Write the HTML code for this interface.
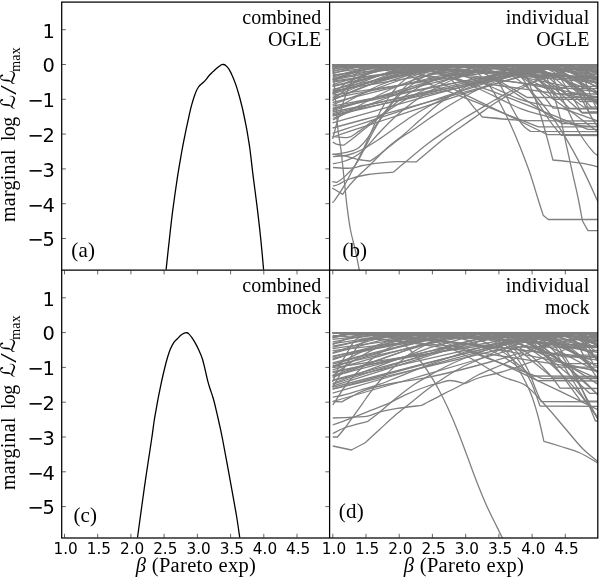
<!DOCTYPE html>
<html lang="en"><head><meta charset="utf-8"><title>marginal log likelihood vs beta</title>
<style>
html,body{margin:0;padding:0;background:#fff;}
body{width:600px;height:578px;position:relative;overflow:hidden;}
.t{position:absolute;white-space:nowrap;color:#000;line-height:1;}
.yt{font-family:"DejaVu Sans","Liberation Sans",sans-serif;font-size:19.44px;text-align:right;width:50px;}
.xt{font-family:"DejaVu Sans","Liberation Sans",sans-serif;font-size:15.28px;text-align:center;width:40px;}
.s{font-family:"Liberation Serif","DejaVu Serif",serif;font-size:20px;}
.r{text-align:right;}
.mn{letter-spacing:-1.3px;}
.yl{transform-origin:0 0;transform:rotate(-90deg);text-align:left;width:200px;height:20px;line-height:20px;letter-spacing:0.25px;word-spacing:3px;}
.cal{font-family:"DejaVu Serif","DejaVu Sans","Liberation Serif",serif;font-style:normal;font-size:20px;line-height:0;letter-spacing:0;}
.lg{letter-spacing:-0.7px;}
.sl{font-size:23px;line-height:0;position:relative;top:1px;display:inline-block;transform:scaleX(1.5);margin:0 2px 0 1.5px;}
sub{font-size:14px;vertical-align:baseline;position:relative;top:5.3px;line-height:0;letter-spacing:0.3px;margin-left:-1.5px;}
</style></head><body>

<svg width="600" height="578" viewBox="0 0 600 578" style="position:absolute;left:0;top:0">
<defs>
<clipPath id="cA"><rect x="61.7" y="2.1" width="267.9" height="268.1"/></clipPath>
<clipPath id="cB"><rect x="329.6" y="64.0" width="268.2" height="206.2"/></clipPath>
<clipPath id="cC"><rect x="61.7" y="270.2" width="267.9" height="267.8"/></clipPath>
<clipPath id="cD"><rect x="329.6" y="332.0" width="268.2" height="206.0"/></clipPath>
</defs>
<g clip-path="url(#cB)" fill="none" stroke="#808080" stroke-width="1.30" stroke-linejoin="round">
<path d="M332.8 64.3C333.2 70.2 334.6 89.0 335.5 100.0C336.4 111.0 337.1 121.7 338.0 130.0C338.9 138.3 339.9 141.3 341.0 150.0C342.1 158.7 343.4 172.6 344.4 181.9C345.4 191.2 346.0 198.1 347.0 206.1C348.0 214.1 349.1 222.7 350.5 230.0C351.9 237.3 353.8 243.3 355.3 250.0C356.8 256.7 358.6 266.7 359.3 270.0"/>
<path d="M333.0 167.5C335.9 167.6 345.6 168.5 350.5 168.2C355.4 167.9 358.0 166.3 362.6 165.5C367.2 164.7 372.2 163.7 378.0 163.1C383.8 162.5 390.8 161.9 397.2 161.7C403.6 161.5 413.1 161.9 416.3 161.9C418.2 160.2 423.3 155.9 428.0 152.0C432.7 148.1 439.1 142.5 444.7 138.3C450.2 134.1 455.8 130.6 461.3 126.7C466.9 122.8 472.4 118.9 478.0 115.0C483.6 111.1 488.6 107.2 494.7 103.3C500.8 99.4 509.2 94.8 514.7 91.7C520.2 88.7 523.0 87.3 528.0 85.0C533.0 82.7 538.0 80.5 545.0 78.0C552.0 75.5 561.2 72.0 570.0 70.0C578.8 68.0 593.3 66.7 598.0 66.0"/>
<path d="M333.0 186.0C333.9 185.8 335.9 185.6 338.4 184.5C340.9 183.4 343.1 181.2 348.0 179.5C352.9 177.8 360.4 175.7 368.0 174.5C375.6 173.3 389.1 172.6 393.3 172.2C395.4 170.4 400.1 166.3 405.9 161.5C411.7 156.7 421.5 148.5 428.0 143.5C434.5 138.5 439.1 135.6 444.7 131.7C450.2 127.8 455.8 123.6 461.3 120.0C466.9 116.4 472.4 113.3 478.0 110.0C483.6 106.7 488.5 103.5 494.7 100.0C500.9 96.5 507.4 92.5 515.0 89.0C522.5 85.5 530.8 82.2 540.0 79.0C549.2 75.8 560.3 72.3 570.0 70.0C579.7 67.7 593.3 65.8 598.0 65.0"/>
<path d="M332.3 202.7C332.7 202.2 332.9 202.9 334.9 200.0C336.9 197.1 341.2 190.9 344.4 185.4C347.6 179.9 351.0 173.0 354.0 167.2C357.0 161.4 359.7 156.7 362.6 150.8C365.5 144.9 368.4 138.2 371.3 131.7C374.2 125.2 376.9 118.0 380.0 112.0C383.1 106.0 386.4 100.7 389.7 96.0C393.0 91.3 395.5 87.8 399.7 84.0C403.9 80.2 409.1 76.0 415.0 73.0C420.9 70.0 427.5 67.4 435.0 66.0C442.5 64.6 445.8 64.7 460.0 64.5C474.2 64.3 497.0 63.8 520.0 65.0C543.0 66.2 585.0 70.8 598.0 72.0"/>
<path d="M332.3 188.0L342.7 194.4C343.1 193.8 343.4 193.0 345.3 190.6C347.2 188.2 349.7 184.7 354.0 180.2C358.3 175.7 365.8 169.0 371.3 163.7C376.8 158.4 381.3 153.1 386.8 148.2C392.3 143.3 398.6 139.0 404.1 134.3C409.6 129.6 414.0 125.2 420.0 120.0C426.0 114.8 433.3 108.0 440.0 103.0C446.7 98.0 453.3 93.8 460.0 90.0C466.7 86.2 472.5 83.2 480.0 80.0C487.5 76.8 496.7 73.3 505.0 71.0C513.3 68.7 520.8 67.1 530.0 66.0C539.2 64.9 548.7 64.5 560.0 64.5C571.3 64.5 591.7 65.8 598.0 66.0"/>
<path d="M333.0 156.7C335.5 156.4 343.3 156.1 348.0 155.0C352.7 153.9 356.3 152.5 361.3 150.0C366.3 147.5 372.4 143.6 378.0 140.0C383.6 136.4 389.1 132.2 394.7 128.3C400.2 124.4 405.8 120.3 411.3 116.7C416.9 113.1 422.4 109.8 428.0 106.7C433.6 103.6 437.7 101.6 444.7 98.3C451.7 95.0 460.8 90.5 470.0 87.0C479.2 83.5 490.0 79.8 500.0 77.0C510.0 74.2 520.0 71.8 530.0 70.0C540.0 68.2 548.7 66.9 560.0 66.0C571.3 65.1 591.7 64.8 598.0 64.5"/>
<path d="M332.3 154.2C334.5 154.5 341.1 155.1 345.3 156.0C349.5 156.9 353.2 158.6 357.4 159.4C361.6 160.2 368.2 160.8 370.4 161.1C372.0 159.9 375.4 157.6 379.9 154.2C384.4 150.8 391.7 144.4 397.2 140.4C402.7 136.4 407.3 133.7 412.8 130.0C418.3 126.3 423.8 122.2 430.0 118.0C436.2 113.8 442.5 109.5 450.0 105.0C457.5 100.5 466.7 95.2 475.0 91.0C483.3 86.8 490.8 83.3 500.0 80.0C509.2 76.7 520.0 73.3 530.0 71.0C540.0 68.7 548.7 67.1 560.0 66.0C571.3 64.9 591.7 64.8 598.0 64.5"/>
<path d="M333.0 100.0C337.5 98.0 348.8 92.0 360.0 88.0C371.2 84.0 386.7 79.3 400.0 76.0C413.3 72.7 428.9 69.6 440.0 68.0C451.1 66.4 460.6 65.5 466.7 66.2C472.8 66.9 472.8 68.6 476.7 72.0C480.6 75.4 486.1 81.5 490.0 86.7C493.9 91.9 496.7 97.2 500.0 103.3C503.3 109.4 506.7 116.1 510.0 123.3C513.3 130.5 516.7 138.4 520.0 146.7C523.3 155.0 527.0 164.4 530.0 173.3C533.0 182.2 536.1 192.9 538.3 200.0C540.5 207.1 542.5 213.0 543.4 215.6L548.3 219.5L598.0 219.5"/>
<path d="M333.0 90.0C340.8 87.5 365.5 78.8 380.0 75.0C394.5 71.2 410.0 67.8 420.0 67.0C430.0 66.2 434.3 67.4 440.0 70.0C445.7 72.6 449.8 78.1 454.0 82.5C458.2 86.9 461.8 92.0 465.2 96.3C468.6 100.6 471.8 105.0 474.7 108.4C477.6 111.9 481.2 115.6 482.5 117.0C487.1 117.4 502.4 118.9 510.0 119.5C517.6 120.1 513.3 120.3 528.0 120.6C542.7 120.8 586.3 120.9 598.0 121.0"/>
<path d="M333.0 80.0C344.2 78.0 377.2 70.6 400.0 68.0C422.8 65.4 455.0 64.2 470.0 64.5C485.0 64.8 484.5 65.8 490.0 70.0C495.5 74.2 499.3 83.7 503.0 90.0C506.7 96.3 509.2 102.7 512.0 108.0C514.8 113.3 517.8 118.3 520.0 121.6C522.2 124.9 523.8 126.2 525.5 127.8C527.2 129.4 529.6 130.7 530.4 131.3L598.0 131.7"/>
<path d="M333.0 110.0C340.8 105.8 363.8 91.7 380.0 85.0C396.2 78.3 413.3 73.4 430.0 70.0C446.7 66.6 465.0 64.5 480.0 64.5C495.0 64.5 511.4 65.8 520.0 70.0C528.6 74.2 528.4 82.8 531.7 90.0C535.0 97.2 537.5 105.5 540.0 113.3C542.5 121.1 544.6 128.9 546.7 136.7C548.9 144.5 551.9 156.1 552.9 160.0C555.6 160.3 564.2 161.0 569.2 161.6C574.2 162.2 578.2 162.5 583.0 163.4C587.8 164.3 595.5 166.2 598.0 166.8"/>
<path d="M333.0 120.0C344.2 114.2 378.8 93.7 400.0 85.0C421.2 76.3 441.7 71.4 460.0 68.0C478.3 64.6 496.7 64.2 510.0 64.5C523.3 64.8 533.0 65.8 540.0 70.0C547.0 74.2 548.4 82.2 551.7 90.0C555.0 97.8 557.5 107.2 560.0 116.7C562.5 126.2 564.5 136.7 566.7 146.7C568.9 156.7 571.3 167.8 573.3 176.7C575.3 185.6 577.0 192.6 578.5 200.0C580.0 207.4 581.8 217.5 582.5 221.0L588.0 230.6L598.0 230.6"/>
<path d="M333.0 75.0C352.5 73.2 415.5 65.3 450.0 64.5C484.5 63.7 521.7 64.9 540.0 70.0C558.3 75.1 554.2 85.8 560.0 95.0C565.8 104.2 571.0 117.5 575.0 125.0C579.0 132.5 580.8 135.5 583.9 140.0C587.0 144.5 591.0 149.5 593.4 152.1C595.8 154.7 597.2 155.0 598.0 155.6"/>
<path d="M332.8 136.6C335.4 136.7 343.8 138.3 348.2 137.4C352.6 136.5 355.2 133.7 359.1 131.1C363.0 128.5 367.7 124.6 371.6 121.8C375.5 119.0 379.1 116.6 382.5 114.0C385.9 111.4 388.1 109.2 391.8 106.2C395.6 103.2 399.5 99.7 405.0 96.0C410.5 92.3 417.5 87.7 425.0 84.0C432.5 80.3 440.8 76.8 450.0 74.0C459.2 71.2 468.3 68.6 480.0 67.0C491.7 65.4 500.3 64.9 520.0 64.5C539.7 64.1 585.0 64.5 598.0 64.5"/>
<path d="M332.8 142.0C333.6 142.4 335.5 143.9 337.3 144.4C339.1 144.9 342.6 145.1 343.6 145.2C344.4 144.7 345.6 143.9 348.2 142.0C350.8 140.1 354.7 137.0 359.1 133.5C363.5 130.0 369.2 125.2 374.7 121.0C380.2 116.8 385.8 112.2 392.0 108.0C398.2 103.8 404.5 100.0 412.0 96.0C419.5 92.0 428.2 87.7 437.0 84.0C445.8 80.3 454.5 76.8 465.0 74.0C475.5 71.2 487.5 68.6 500.0 67.0C512.5 65.4 523.7 64.8 540.0 64.5C556.3 64.2 588.3 65.3 598.0 65.5"/>
<path d="M332.8 154.5C334.6 154.2 340.2 153.6 343.6 152.9C347.0 152.2 350.3 151.5 352.9 150.6C355.5 149.7 356.8 149.4 359.1 147.5C361.4 145.6 363.5 143.5 366.9 138.9C370.3 134.3 375.5 125.9 379.4 120.2C383.3 114.5 386.5 109.7 390.3 104.7C394.1 99.7 397.7 94.5 402.0 90.0C406.3 85.5 410.5 81.5 416.0 78.0C421.5 74.5 427.7 71.2 435.0 69.0C442.3 66.8 432.8 65.2 460.0 64.5C487.2 63.8 575.0 64.5 598.0 64.5"/>
<path d="M332.8 163.8C334.6 163.4 340.5 162.4 343.6 161.5C346.7 160.6 348.8 159.7 351.4 158.4C354.0 157.1 356.5 155.6 359.1 153.7C361.7 151.8 363.4 150.3 366.9 146.7C370.4 143.1 375.3 136.9 380.0 132.0C384.7 127.0 389.7 121.8 395.0 117.0C400.3 112.2 405.8 107.5 412.0 103.0C418.2 98.5 424.8 94.0 432.0 90.0C439.2 86.0 446.2 82.3 455.0 79.0C463.8 75.7 474.2 72.3 485.0 70.0C495.8 67.7 501.2 65.9 520.0 65.0C538.8 64.1 585.0 64.6 598.0 64.5"/>
<path d="M332.3 181.6L336.6 182.4C337.8 181.6 340.4 180.6 343.6 177.6C346.8 174.6 352.2 169.4 355.7 164.6C359.1 159.8 361.6 154.1 364.3 149.0C367.0 143.9 369.1 139.3 372.0 134.0C374.9 128.7 378.3 122.5 382.0 117.0C385.7 111.5 389.3 106.2 394.0 101.0C398.7 95.8 404.0 90.5 410.0 86.0C416.0 81.5 422.5 77.2 430.0 74.0C437.5 70.8 445.0 68.1 455.0 66.5C465.0 64.9 466.2 64.9 490.0 64.6C513.8 64.3 580.0 64.6 598.0 64.6"/>
<path d="M460.0 64.5C466.7 64.8 490.0 64.1 500.0 66.0C510.0 67.9 514.9 71.8 520.0 76.0C525.1 80.2 526.9 85.9 530.4 91.1C533.9 96.3 537.2 101.6 540.8 107.0C544.4 112.4 548.3 119.0 551.8 123.7C555.2 128.4 559.9 133.5 561.5 135.4L598.0 135.6"/>
<path d="M500.0 64.5C507.5 64.8 534.5 64.8 545.0 66.0C555.5 67.2 558.4 69.1 563.0 72.0C567.6 74.9 569.4 78.8 572.6 83.5C575.8 88.2 579.1 94.3 582.3 100.1C585.5 105.9 589.4 113.6 592.0 118.1C594.6 122.6 597.0 125.5 598.0 127.0"/>
<path d="M520.0 64.5C527.5 64.8 555.3 65.1 565.0 66.0C574.7 66.9 574.7 67.5 578.0 70.0C581.3 72.5 582.7 76.0 585.0 80.8C587.3 85.6 589.8 93.8 592.0 98.8C594.2 103.8 597.0 109.0 598.0 111.0"/>
<path d="M400.0 64.5C406.7 65.1 426.7 65.1 440.0 68.0C453.3 70.9 466.7 76.8 480.0 82.0C493.3 87.2 509.9 95.7 520.0 99.4C530.1 103.1 533.9 102.8 540.8 104.3C547.7 105.8 554.6 106.6 561.5 108.4C568.4 110.2 576.2 113.3 582.3 115.4C588.4 117.5 595.4 120.1 598.0 121.0"/>
<path d="M380.0 64.5C386.7 65.1 405.0 64.6 420.0 68.0C435.0 71.4 453.3 78.3 470.0 85.0C486.7 91.7 507.1 103.1 520.0 108.4C533.0 113.7 538.5 113.9 547.7 116.7C556.9 119.5 567.0 123.4 575.4 125.0C583.8 126.6 594.2 126.2 598.0 126.4"/>
<path d="M430.0 64.5C440.0 64.8 475.0 64.4 490.0 66.0C505.0 67.6 511.7 69.7 520.0 74.0C528.3 78.3 534.5 86.3 540.0 92.0C545.5 97.7 550.8 105.5 553.0 108.2L598.0 108.6"/>
<path d="M450.0 64.5C458.3 65.1 486.7 65.4 500.0 68.0C513.3 70.6 522.5 76.6 530.0 80.0C537.5 83.4 542.5 86.8 545.0 88.2L598.0 88.6"/>
<path d="M470.0 64.5C478.3 65.4 507.5 66.8 520.0 70.0C532.5 73.2 539.0 80.1 545.0 84.0C551.0 87.9 554.2 92.0 556.0 93.6L598.0 94.0"/>
<path d="M332.6 86.0L358.2 80.2L419.7 67.2L477.1 64.6L523.6 64.6L591.5 75.8L598.3 78.6"/>
<path d="M332.6 110.7C336.3 109.6 347.3 106.2 354.7 103.9C362.1 101.6 369.5 99.3 376.9 97.1C384.3 94.8 391.6 92.6 399.0 90.4C406.4 88.2 413.8 86.0 421.2 83.9C428.6 81.8 435.9 79.7 443.3 77.7C450.7 75.7 458.1 73.6 465.5 71.9C472.9 70.2 480.2 68.5 487.6 67.3C495.0 66.1 502.3 64.9 509.7 64.7C517.1 64.5 524.5 63.7 531.9 65.9C539.3 68.1 546.0 71.8 554.0 77.7C562.0 83.6 575.8 97.5 580.2 101.5L598.3 101.5"/>
<path d="M332.6 104.6C336.3 103.2 347.3 99.1 354.7 96.4C362.1 93.7 369.5 91.0 376.9 88.3C384.3 85.6 391.6 83.0 399.0 80.5C406.4 78.0 413.8 75.5 421.2 73.3C428.6 71.1 435.9 68.8 443.3 67.3C450.7 65.8 458.1 65.0 465.5 64.6C472.9 64.1 480.2 64.5 487.6 64.6C495.0 64.7 502.3 63.3 509.7 65.1C517.1 66.9 524.5 70.8 531.9 75.6C539.3 80.4 547.6 88.2 554.0 93.8C560.4 99.3 567.4 106.4 570.1 108.9L598.3 108.9"/>
<path d="M332.6 72.7C336.3 72.2 347.3 70.6 354.7 69.6C362.1 68.6 369.5 67.7 376.9 66.9C384.3 66.1 391.6 65.4 399.0 65.0C406.4 64.6 413.8 64.7 421.2 64.6C428.6 64.5 435.9 64.6 443.3 64.6C450.7 64.6 458.1 64.6 465.5 64.6C472.9 64.6 480.2 64.6 487.6 64.6C495.0 64.6 502.3 64.6 509.7 64.6C517.1 64.6 524.5 64.0 531.9 64.6C539.3 65.2 546.6 65.9 554.0 68.4C561.4 70.9 568.8 75.5 576.2 79.5C583.6 83.5 594.6 90.3 598.3 92.5"/>
<path d="M332.6 108.1C336.3 107.3 347.3 105.0 354.7 103.5C362.1 102.0 369.5 100.5 376.9 99.0C384.3 97.5 391.6 95.9 399.0 94.4C406.4 92.9 413.8 91.4 421.2 89.9C428.6 88.4 435.9 86.8 443.3 85.3C450.7 83.8 458.1 82.3 465.5 80.8C472.9 79.3 480.2 77.8 487.6 76.3C495.0 74.8 502.3 73.3 509.7 71.8C517.1 70.3 524.5 68.6 531.9 67.4C539.3 66.2 546.0 64.4 554.0 64.6C562.0 64.8 575.3 68.1 579.6 68.8L598.3 68.8"/>
<path d="M332.6 89.4L400.2 74.9L425.7 69.5L441.4 66.4L465.0 64.6L529.5 64.6L574.1 84.5L598.3 103.2"/>
<path d="M332.6 112.0L409.1 96.2L464.6 84.9L518.8 73.9L550.6 67.8L553.5 67.3L579.1 64.6L597.0 69.5"/>
<path d="M332.6 90.8C336.3 90.2 347.3 88.3 354.7 87.1C362.1 85.9 369.5 84.7 376.9 83.5C384.3 82.3 391.6 81.0 399.0 79.8C406.4 78.6 413.8 77.4 421.2 76.2C428.6 75.0 435.9 73.9 443.3 72.7C450.7 71.5 458.1 70.3 465.5 69.3C472.9 68.2 480.2 67.2 487.6 66.4C495.0 65.6 502.3 64.9 509.7 64.6C517.1 64.3 524.5 64.6 531.9 64.6C539.3 64.6 546.6 64.6 554.0 64.6C561.4 64.6 569.7 64.5 576.2 64.6C582.8 64.7 590.4 65.1 593.3 65.2"/>
<path d="M332.6 97.4C336.3 95.8 347.3 91.0 354.7 88.0C362.1 85.0 369.5 81.9 376.9 79.1C384.3 76.3 391.6 73.6 399.0 71.4C406.4 69.2 413.8 67.1 421.2 66.0C428.6 64.9 435.9 64.8 443.3 64.6C450.7 64.4 458.1 64.6 465.5 64.6C472.9 64.6 480.2 64.6 487.6 64.6C495.0 64.6 502.3 64.6 509.7 64.6C517.1 64.6 524.5 64.0 531.9 64.6C539.3 65.2 546.6 66.6 554.0 68.2C561.4 69.8 568.8 72.1 576.2 74.1C583.6 76.1 594.6 79.2 598.3 80.2"/>
<path d="M332.6 106.1L366.8 99.5L368.3 99.2L474.4 79.1L500.8 74.2L540.4 67.6L587.6 70.2L598.3 87.5"/>
<path d="M332.6 86.5C336.3 85.6 347.3 83.0 354.7 81.3C362.1 79.6 369.5 77.8 376.9 76.1C384.3 74.4 391.6 72.6 399.0 71.0C406.4 69.4 413.8 67.7 421.2 66.6C428.6 65.5 435.9 64.9 443.3 64.6C450.7 64.3 458.1 64.6 465.5 64.6C472.9 64.6 480.2 64.6 487.6 64.6C495.0 64.6 502.3 64.6 509.7 64.6C517.1 64.6 524.5 64.6 531.9 64.6C539.3 64.6 546.6 64.2 554.0 64.6C561.4 65.0 568.8 65.8 576.2 67.0C583.6 68.2 594.6 71.2 598.3 72.1"/>
<path d="M332.6 82.2L361.3 77.8L372.0 76.2L453.7 65.8L497.2 65.7L521.6 77.0L574.7 114.3L598.3 132.2"/>
<path d="M332.6 93.2L393.1 70.3L474.8 67.0L562.1 123.6L586.0 123.6L586.8 123.6L598.3 123.6"/>
<path d="M332.6 133.3C336.3 132.1 347.3 128.4 354.7 126.0C362.1 123.6 369.5 121.1 376.9 118.7C384.3 116.3 391.6 113.8 399.0 111.4C406.4 109.0 413.8 106.5 421.2 104.1C428.6 101.7 435.9 99.3 443.3 96.9C450.7 94.5 458.1 92.1 465.5 89.7C472.9 87.3 480.2 84.9 487.6 82.6C495.0 80.3 502.3 78.0 509.7 75.8C517.1 73.6 524.5 71.2 531.9 69.4C539.3 67.6 546.6 64.2 554.0 65.0C561.4 65.8 570.4 66.5 576.2 74.3C582.0 82.1 586.7 105.7 588.8 112.0L598.3 112.0"/>
<path d="M332.6 81.1L450.4 64.6L470.1 64.6L510.4 64.6L561.4 75.8L566.6 80.3L588.1 100.1L598.3 100.1"/>
<path d="M332.6 75.6L391.8 64.7L417.9 64.6L435.5 64.6L552.6 73.3L554.0 74.0L566.6 81.3L583.7 92.9L598.3 103.6"/>
<path d="M332.6 137.0C336.3 135.8 347.3 132.1 354.7 129.7C362.1 127.3 369.5 124.8 376.9 122.4C384.3 120.0 391.6 117.5 399.0 115.1C406.4 112.7 413.8 110.2 421.2 107.8C428.6 105.4 435.9 103.0 443.3 100.6C450.7 98.2 458.1 95.8 465.5 93.4C472.9 91.0 480.2 88.6 487.6 86.3C495.0 84.0 502.3 81.6 509.7 79.4C517.1 77.2 524.5 74.9 531.9 72.9C539.3 70.9 546.6 68.8 554.0 67.4C561.4 66.0 569.0 63.8 576.2 64.6C583.4 65.3 593.9 70.7 597.4 71.9"/>
<path d="M332.6 116.0C336.3 115.1 347.3 112.5 354.7 110.7C362.1 108.9 369.5 107.1 376.9 105.3C384.3 103.5 391.6 101.8 399.0 100.0C406.4 98.2 413.8 96.5 421.2 94.7C428.6 93.0 435.9 91.2 443.3 89.5C450.7 87.8 458.1 86.0 465.5 84.3C472.9 82.6 480.2 80.8 487.6 79.2C495.0 77.6 502.3 76.0 509.7 74.4C517.1 72.9 524.5 71.2 531.9 69.9C539.3 68.6 546.6 67.2 554.0 66.3C561.4 65.4 569.7 63.7 576.2 64.6C582.7 65.5 590.2 70.6 593.0 71.8"/>
<path d="M332.6 118.5C336.3 117.1 347.3 112.9 354.7 110.1C362.1 107.3 369.5 104.5 376.9 101.7C384.3 98.9 391.6 96.1 399.0 93.3C406.4 90.5 413.8 87.8 421.2 85.1C428.6 82.4 435.9 79.8 443.3 77.3C450.7 74.8 458.1 72.1 465.5 70.1C472.9 68.1 480.2 66.1 487.6 65.2C495.0 64.3 502.3 64.7 509.7 64.6C517.1 64.5 524.5 63.8 531.9 64.7C539.3 65.7 546.6 67.5 554.0 70.3C561.4 73.1 568.8 77.4 576.2 81.5C583.6 85.6 594.6 92.8 598.3 95.1"/>
<path d="M332.6 128.0L365.7 119.0L370.2 117.8L420.5 104.1L428.9 101.8L468.1 91.2L495.7 83.7L523.7 76.2L591.2 77.2"/>
<path d="M332.6 98.2L398.0 85.6L472.9 71.5L493.7 68.0L526.2 64.6L554.1 64.6L555.5 64.6L591.7 64.7"/>
<path d="M332.6 78.9C336.3 77.9 347.3 74.6 354.7 72.7C362.1 70.8 369.5 69.0 376.9 67.7C384.3 66.4 391.6 65.3 399.0 64.8C406.4 64.3 413.8 64.6 421.2 64.6C428.6 64.6 435.9 64.6 443.3 64.6C450.7 64.6 458.1 64.6 465.5 64.6C472.9 64.6 480.2 64.6 487.6 64.6C495.0 64.6 502.3 64.0 509.7 64.6C517.1 65.2 524.5 66.2 531.9 68.1C539.3 70.0 546.6 73.2 554.0 76.0C561.4 78.8 568.8 81.7 576.2 84.6C583.6 87.5 594.6 91.9 598.3 93.4"/>
<path d="M332.6 114.8L363.5 108.2L429.5 94.1L430.5 93.8L483.1 82.6L497.8 79.5L517.1 75.4L540.9 70.4L546.5 69.3L596.0 67.9"/>
<path d="M332.6 79.3C336.3 78.1 347.3 74.1 354.7 72.0C362.1 69.9 369.5 67.8 376.9 66.6C384.3 65.4 391.6 64.9 399.0 64.6C406.4 64.3 413.8 64.6 421.2 64.6C428.6 64.6 435.9 64.6 443.3 64.6C450.7 64.6 458.1 64.6 465.5 64.6C472.9 64.6 480.2 64.6 487.6 64.6C495.0 64.6 502.3 63.4 509.7 64.6C517.1 65.8 524.5 67.8 531.9 71.8C539.3 75.8 545.7 81.5 554.0 88.3C562.3 95.1 576.9 108.4 581.5 112.4L598.3 112.4"/>
<path d="M332.6 77.2C336.3 76.1 347.3 72.6 354.7 70.6C362.1 68.6 369.5 66.1 376.9 65.3C384.3 64.5 391.6 64.1 399.0 65.5C406.4 66.9 413.8 70.8 421.2 73.9C428.6 77.0 435.9 80.7 443.3 84.2C450.7 87.7 458.1 91.2 465.5 94.8C472.9 98.3 480.2 101.9 487.6 105.5C495.0 109.1 502.3 112.6 509.7 116.2C517.1 119.8 525.6 123.9 531.9 127.0C538.2 130.1 544.9 133.3 547.5 134.6C552.3 134.6 567.7 134.6 576.2 134.6C584.7 134.6 594.6 134.6 598.3 134.6"/>
<path d="M332.6 95.2L385.0 87.4L441.6 79.1L453.8 77.3L525.9 67.3L552.4 64.8L582.1 113.0L598.3 113.0"/>
<path d="M332.6 113.7C336.3 112.8 347.3 110.2 354.7 108.4C362.1 106.7 369.5 104.9 376.9 103.2C384.3 101.5 391.6 99.7 399.0 98.0C406.4 96.3 413.8 94.5 421.2 92.8C428.6 91.1 435.9 89.4 443.3 87.7C450.7 86.0 458.1 84.4 465.5 82.7C472.9 81.0 480.2 79.4 487.6 77.8C495.0 76.2 502.3 74.7 509.7 73.2C517.1 71.8 524.5 70.3 531.9 69.1C539.3 67.9 546.6 66.8 554.0 66.0C561.4 65.2 568.8 63.2 576.2 64.6C583.6 66.0 594.6 72.8 598.3 74.5"/>
<path d="M332.6 68.2C336.3 67.6 347.3 65.3 354.7 64.7C362.1 64.1 369.5 64.6 376.9 64.6C384.3 64.6 391.6 64.6 399.0 64.6C406.4 64.6 413.8 64.6 421.2 64.6C428.6 64.6 435.9 64.6 443.3 64.6C450.7 64.6 458.1 64.6 465.5 64.6C472.9 64.6 480.2 64.6 487.6 64.6C495.0 64.6 502.3 64.6 509.7 64.6C517.1 64.6 524.5 64.0 531.9 64.6C539.3 65.2 546.6 65.8 554.0 68.3C561.4 70.8 569.9 76.2 576.2 79.9C582.5 83.6 589.2 88.8 591.8 90.6"/>
<path d="M332.6 94.0C336.3 92.8 347.3 89.1 354.7 86.8C362.1 84.5 369.5 82.1 376.9 79.9C384.3 77.7 391.6 75.4 399.0 73.5C406.4 71.6 413.8 69.7 421.2 68.3C428.6 66.9 435.9 65.6 443.3 65.0C450.7 64.4 458.1 64.7 465.5 64.6C472.9 64.5 480.2 64.6 487.6 64.6C495.0 64.6 502.3 64.5 509.7 64.6C517.1 64.7 524.5 64.3 531.9 65.3C539.3 66.3 546.6 68.2 554.0 70.4C561.4 72.6 568.8 75.4 576.2 78.2C583.6 81.0 594.6 85.5 598.3 87.0"/>
<path d="M332.6 66.8C336.3 66.5 347.3 65.2 354.7 64.9C362.1 64.6 369.5 63.7 376.9 64.9C384.3 66.1 391.6 69.6 399.0 72.2C406.4 74.8 413.8 77.9 421.2 80.8C428.6 83.7 435.9 86.5 443.3 89.4C450.7 92.3 458.1 95.2 465.5 98.1C472.9 101.0 480.2 103.9 487.6 106.8C495.0 109.7 501.2 112.3 509.7 115.6C518.2 118.9 533.6 124.9 538.4 126.8C541.0 126.8 547.7 126.8 554.0 126.8C560.3 126.8 568.8 126.8 576.2 126.8C583.6 126.8 594.6 126.8 598.3 126.8"/>
<path d="M332.6 68.9C336.3 68.5 347.3 67.2 354.7 66.5C362.1 65.8 369.5 65.2 376.9 64.9C384.3 64.6 391.6 64.6 399.0 64.6C406.4 64.5 413.8 64.6 421.2 64.6C428.6 64.6 435.9 64.6 443.3 64.6C450.7 64.6 458.1 64.6 465.5 64.6C472.9 64.6 480.2 64.6 487.6 64.6C495.0 64.6 502.3 64.6 509.7 64.6C517.1 64.6 524.5 64.6 531.9 64.6C539.3 64.6 546.6 64.4 554.0 64.6C561.4 64.8 570.7 64.1 576.2 65.5C581.7 66.9 585.2 71.8 587.0 73.0L598.3 73.0"/>
<path d="M332.6 102.5L342.0 100.2L404.5 84.6L408.8 83.5L425.3 79.4L466.7 69.3L475.7 67.2L502.8 64.6L531.4 64.6L598.3 75.2"/>
<path d="M332.6 71.2C336.3 70.5 347.3 68.0 354.7 66.9C362.1 65.8 369.5 65.0 376.9 64.6C384.3 64.2 391.6 64.6 399.0 64.6C406.4 64.6 413.8 64.6 421.2 64.6C428.6 64.6 435.9 64.6 443.3 64.6C450.7 64.6 458.1 64.6 465.5 64.6C472.9 64.6 480.2 64.6 487.6 64.6C495.0 64.6 502.3 64.6 509.7 64.6C517.1 64.6 524.5 64.6 531.9 64.6C539.3 64.6 546.6 64.6 554.0 64.6C561.4 64.6 569.3 64.2 576.2 64.6C583.1 65.0 592.0 66.6 595.2 67.0"/>
<path d="M332.6 65.0C336.3 64.9 347.3 64.7 354.7 64.6C362.1 64.5 369.5 64.6 376.9 64.6C384.3 64.6 391.6 64.6 399.0 64.6C406.4 64.6 413.8 64.6 421.2 64.6C428.6 64.6 435.9 64.6 443.3 64.6C450.7 64.6 458.1 64.6 465.5 64.6C472.9 64.6 480.2 64.6 487.6 64.6C495.0 64.6 502.3 64.6 509.7 64.6C517.1 64.6 524.5 64.3 531.9 64.6C539.3 64.9 546.6 65.3 554.0 66.6C561.4 67.9 568.8 70.2 576.2 72.4C583.6 74.6 594.6 78.4 598.3 79.6"/>
<path d="M332.6 109.1C336.3 108.1 347.3 105.2 354.7 103.2C362.1 101.2 369.5 99.3 376.9 97.4C384.3 95.5 391.6 93.5 399.0 91.6C406.4 89.7 413.8 87.8 421.2 85.9C428.6 84.0 435.9 82.2 443.3 80.3C450.7 78.4 458.1 76.5 465.5 74.8C472.9 73.0 480.2 71.3 487.6 69.8C495.0 68.3 502.3 66.8 509.7 65.9C517.1 65.0 524.5 63.5 531.9 64.6C539.3 65.7 546.6 67.8 554.0 72.3C561.4 76.8 569.8 85.6 576.2 91.6C582.6 97.6 589.7 105.5 592.4 108.3"/>
<path d="M332.6 69.7L351.9 64.6L357.8 64.6L447.7 64.6L528.2 64.6L567.8 71.2L577.7 76.2L588.8 82.6L598.3 88.2"/>
<path d="M332.6 122.9C336.3 121.9 347.3 118.7 354.7 116.6C362.1 114.5 369.5 112.4 376.9 110.3C384.3 108.2 391.6 106.2 399.0 104.1C406.4 102.0 413.8 99.9 421.2 97.9C428.6 95.9 435.9 93.9 443.3 91.9C450.7 89.9 458.1 87.9 465.5 85.9C472.9 83.9 480.2 82.0 487.6 80.1C495.0 78.2 502.3 76.4 509.7 74.7C517.1 73.0 524.5 71.3 531.9 69.9C539.3 68.5 546.6 67.1 554.0 66.2C561.4 65.3 569.0 62.2 576.2 64.6C583.5 67.0 594.0 78.0 597.5 80.7"/>
<path d="M332.6 84.7C336.3 83.6 347.3 80.2 354.7 78.0C362.1 75.8 369.5 73.5 376.9 71.5C384.3 69.5 391.6 67.1 399.0 65.9C406.4 64.8 413.8 64.8 421.2 64.6C428.6 64.4 435.9 64.6 443.3 64.6C450.7 64.6 458.1 64.6 465.5 64.6C472.9 64.6 480.2 64.6 487.6 64.6C495.0 64.6 502.3 63.4 509.7 64.6C517.1 65.8 524.5 65.8 531.9 71.6C539.3 77.4 550.3 94.8 554.0 99.4C557.7 99.4 568.8 99.4 576.2 99.4C583.6 99.4 594.6 99.4 598.3 99.4"/>
<path d="M332.6 65.3C336.3 65.2 347.3 64.7 354.7 64.6C362.1 64.5 369.5 64.6 376.9 64.6C384.3 64.6 391.6 64.1 399.0 64.6C406.4 65.1 413.8 66.2 421.2 67.7C428.6 69.2 435.9 71.6 443.3 73.9C450.7 76.2 458.1 78.9 465.5 81.5C472.9 84.1 480.2 86.9 487.6 89.7C495.0 92.5 502.3 95.3 509.7 98.2C517.1 101.1 524.5 104.0 531.9 106.9C539.3 109.8 546.6 112.8 554.0 115.7C561.4 118.7 570.6 122.3 576.2 124.6C581.9 126.9 586.0 128.5 587.9 129.3L598.3 129.3"/>
<path d="M332.6 66.9C336.3 66.5 347.3 65.0 354.7 64.6C362.1 64.2 369.5 64.6 376.9 64.6C384.3 64.6 391.6 64.6 399.0 64.6C406.4 64.6 413.8 64.6 421.2 64.6C428.6 64.6 435.9 64.3 443.3 64.6C450.7 64.9 458.1 64.6 465.5 66.3C472.9 68.0 480.2 71.5 487.6 75.0C495.0 78.5 503.1 83.3 509.7 87.1C516.3 90.8 524.3 95.8 527.2 97.5C531.7 97.5 545.8 97.5 554.0 97.5C562.2 97.5 568.8 97.5 576.2 97.5C583.6 97.5 594.6 97.5 598.3 97.5"/>
<path d="M332.6 71.2C336.3 70.5 347.3 68.2 354.7 67.1C362.1 66.0 369.5 65.0 376.9 64.6C384.3 64.2 391.6 64.6 399.0 64.6C406.4 64.6 413.8 64.6 421.2 64.6C428.6 64.6 435.9 64.6 443.3 64.6C450.7 64.6 458.1 64.6 465.5 64.6C472.9 64.6 480.2 64.6 487.6 64.6C495.0 64.6 502.3 64.6 509.7 64.6C517.1 64.6 524.5 64.3 531.9 64.6C539.3 64.9 546.6 64.8 554.0 66.5C561.4 68.2 568.8 71.6 576.2 74.6C583.6 77.6 594.6 82.7 598.3 84.3"/>
<path d="M332.6 99.9L379.8 80.7L398.5 73.8L461.4 64.6L566.8 86.3L587.0 86.3L598.3 86.3"/>
<path d="M332.6 91.8C336.3 90.9 347.3 88.2 354.7 86.4C362.1 84.6 369.5 82.8 376.9 81.1C384.3 79.4 391.6 77.6 399.0 76.0C406.4 74.4 413.8 72.7 421.2 71.3C428.6 69.9 435.9 68.5 443.3 67.4C450.7 66.4 458.1 65.5 465.5 65.0C472.9 64.5 480.2 64.6 487.6 64.6C495.0 64.6 502.3 63.7 509.7 65.0C517.1 66.3 524.5 68.9 531.9 72.3C539.3 75.7 545.4 79.8 554.0 85.6C562.6 91.4 578.6 103.5 583.5 107.1L598.3 107.1"/>
<path d="M332.6 73.6C336.3 72.6 347.3 69.4 354.7 67.9C362.1 66.4 369.5 65.1 376.9 64.6C384.3 64.0 391.6 64.6 399.0 64.6C406.4 64.6 413.8 64.6 421.2 64.6C428.6 64.6 435.9 64.6 443.3 64.6C450.7 64.6 458.1 64.6 465.5 64.6C472.9 64.6 480.2 64.6 487.6 64.6C495.0 64.6 502.3 64.6 509.7 64.6C517.1 64.6 524.5 64.6 531.9 64.6C539.3 64.6 546.6 64.6 554.0 64.6C561.4 64.6 568.8 64.4 576.2 64.6C583.6 64.8 594.6 65.7 598.3 65.9"/>
<path d="M332.6 139.0C333.4 136.0 335.9 126.5 337.5 120.8C339.1 115.1 340.8 109.9 342.4 105.0C344.0 100.1 345.6 95.6 347.2 91.5C348.8 87.4 350.5 83.8 352.1 80.6C353.7 77.4 355.4 74.6 357.0 72.3C358.6 70.0 360.3 68.1 361.9 66.8C363.5 65.5 353.0 64.9 366.7 64.6C380.4 64.3 418.2 64.8 443.9 65.0C469.6 65.2 495.4 65.6 521.1 66.1C546.8 66.6 585.4 67.6 598.3 67.9"/>
<path d="M332.6 79.6C335.1 79.0 342.5 77.1 347.4 76.0C352.3 74.9 357.2 73.8 362.1 72.8C367.0 71.8 372.0 70.9 376.9 70.1C381.8 69.3 386.7 68.6 391.6 67.9C396.5 67.2 401.5 66.7 406.4 66.2C411.3 65.7 416.3 65.4 421.2 65.1C426.1 64.8 424.4 64.3 435.9 64.6C447.4 64.8 472.1 65.3 490.1 66.6C508.2 67.9 526.2 69.9 544.2 72.6C562.2 75.2 589.3 80.8 598.3 82.5"/>
<path d="M332.6 93.5L347.0 82.3L386.0 65.2L392.8 64.6C404.2 64.7 438.5 64.9 461.3 65.3C484.1 65.7 507.0 66.3 529.8 67.2C552.6 68.1 586.9 70.0 598.3 70.5"/>
<path d="M332.6 100.8L340.0 94.0L357.6 80.1L359.4 78.8L365.0 75.1L390.8 64.6C402.3 64.9 436.9 65.2 460.0 66.3C483.1 67.4 506.1 69.0 529.1 71.3C552.1 73.5 586.8 78.4 598.3 79.8"/>
<path d="M332.6 64.6C338.1 64.7 354.7 65.0 365.8 65.3C376.9 65.6 387.9 66.1 399.0 66.6C410.1 67.1 421.1 67.7 432.2 68.3C443.3 68.9 454.4 69.7 465.5 70.4C476.6 71.2 487.6 72.0 498.7 72.8C509.8 73.6 520.8 74.5 531.9 75.4C543.0 76.3 554.0 77.3 565.1 78.3C576.2 79.3 592.8 81.0 598.3 81.5"/>
<path d="M332.6 64.6C338.1 64.8 354.7 65.1 365.8 65.6C376.9 66.1 387.9 66.9 399.0 67.8C410.1 68.7 421.1 69.8 432.2 71.0C443.3 72.2 454.4 73.5 465.5 74.9C476.6 76.4 487.6 78.0 498.7 79.7C509.8 81.4 520.8 83.1 531.9 85.0C543.0 86.9 554.0 89.0 565.1 91.1C576.2 93.2 592.8 96.6 598.3 97.7"/>
<path d="M332.6 64.6C338.1 64.8 354.7 65.3 365.8 65.8C376.9 66.2 387.9 66.8 399.0 67.3C410.1 67.8 421.1 68.4 432.2 69.0C443.3 69.6 454.4 70.2 465.5 70.8C476.6 71.4 487.6 72.1 498.7 72.7C509.8 73.3 520.8 73.9 531.9 74.6C543.0 75.2 554.0 75.9 565.1 76.6C576.2 77.3 592.8 78.3 598.3 78.7"/>
<path d="M332.6 64.6C338.1 64.8 354.7 65.3 365.8 65.7C376.9 66.1 387.9 66.6 399.0 67.1C410.1 67.6 421.1 68.1 432.2 68.6C443.3 69.1 454.4 69.7 465.5 70.2C476.6 70.7 487.6 71.2 498.7 71.8C509.8 72.4 520.8 73.0 531.9 73.6C543.0 74.2 554.0 74.8 565.1 75.4C576.2 76.0 592.8 76.9 598.3 77.2"/>
<path d="M332.6 64.6C338.1 65.2 354.7 66.8 365.8 68.1C376.9 69.4 387.9 70.8 399.0 72.2C410.1 73.6 421.1 75.0 432.2 76.5C443.3 78.0 454.4 79.4 465.5 80.9C476.6 82.4 487.6 84.0 498.7 85.5C509.8 87.0 520.8 88.5 531.9 90.1C543.0 91.7 554.0 93.3 565.1 94.9C576.2 96.5 592.8 98.9 598.3 99.7"/>
<path d="M332.6 64.6C338.1 65.0 354.7 66.1 365.8 67.0C376.9 67.9 387.9 69.0 399.0 70.0C410.1 71.0 421.1 72.2 432.2 73.3C443.3 74.4 454.4 75.5 465.5 76.7C476.6 77.9 487.6 79.1 498.7 80.3C509.8 81.5 520.8 82.8 531.9 84.1C543.0 85.4 554.0 86.6 565.1 87.9C576.2 89.2 592.8 91.2 598.3 91.9"/>
<path d="M332.6 64.6C338.1 64.8 354.7 65.2 365.8 65.7C376.9 66.2 387.9 66.8 399.0 67.4C410.1 68.0 421.1 68.8 432.2 69.5C443.3 70.2 454.4 71.0 465.5 71.8C476.6 72.6 487.6 73.4 498.7 74.3C509.8 75.2 520.8 76.1 531.9 77.0C543.0 77.9 554.0 78.8 565.1 79.8C576.2 80.8 592.8 82.3 598.3 82.8"/>
<path d="M378.6 64.6C395.2 64.6 459.9 64.4 478.2 64.6C496.5 64.8 484.9 65.0 488.2 65.6C491.5 66.2 494.9 67.1 498.2 68.4C501.5 69.7 504.8 71.3 508.1 73.2C511.4 75.1 514.8 77.3 518.1 79.8C521.4 82.3 524.8 85.2 528.1 88.4C531.4 91.6 534.7 95.0 538.0 98.8C541.3 102.6 544.7 106.8 548.0 111.2C551.3 115.6 554.6 120.3 557.9 125.4C561.2 130.5 564.6 135.9 567.9 141.6C571.2 147.3 574.6 153.3 577.9 159.6C581.2 165.9 584.5 172.6 587.8 179.6C591.1 186.6 596.0 197.6 597.8 201.4C599.5 205.2 598.2 202.4 598.3 202.6"/>
<path d="M478.3 64.6C494.9 64.6 559.6 64.5 577.9 64.6C596.2 64.7 584.6 64.8 587.9 65.1C591.2 65.4 596.1 66.3 597.8 66.6C599.5 66.9 598.2 66.7 598.3 66.7"/>
<path d="M444.5 64.6C461.1 64.6 525.9 64.5 544.2 64.6C562.5 64.7 550.9 64.7 554.2 65.1C557.5 65.5 560.8 66.1 564.1 66.8C567.4 67.5 570.8 68.4 574.1 69.5C577.4 70.6 580.8 71.8 584.1 73.3C587.4 74.8 591.6 77.0 594.0 78.2C596.4 79.4 597.6 80.2 598.3 80.6"/>
<path d="M413.2 64.6C429.8 64.6 494.6 64.4 512.9 64.6C531.2 64.8 519.6 64.9 522.9 65.6C526.2 66.3 529.5 67.3 532.8 68.7C536.1 70.1 539.5 71.8 542.8 73.8C546.1 75.8 549.4 78.2 552.7 81.0C556.0 83.8 560.5 88.2 562.7 90.3C564.9 92.4 565.4 93.1 565.9 93.7L598.3 96.8"/>
<path d="M408.6 64.6C425.2 64.6 490.0 64.5 508.3 64.6C526.6 64.7 514.9 64.8 518.2 65.1C521.5 65.4 524.9 65.9 528.2 66.6C531.5 67.3 534.9 68.1 538.2 69.1C541.5 70.1 544.8 71.3 548.1 72.6C551.4 73.9 554.8 75.4 558.1 77.1C561.4 78.8 564.8 80.6 568.1 82.6C571.4 84.6 574.7 86.8 578.0 89.1C581.3 91.4 584.7 93.9 588.0 96.6C591.3 99.3 596.3 103.6 598.0 105.1C599.7 106.6 598.2 105.4 598.3 105.4"/>
<path d="M441.3 64.6C457.9 64.6 522.7 64.5 541.0 64.6C559.3 64.7 547.7 64.8 551.0 65.0C554.3 65.2 557.6 65.6 560.9 66.1C564.2 66.6 567.6 67.3 570.9 68.1C574.2 68.9 577.5 69.8 580.8 70.8C584.1 71.8 587.9 73.2 590.8 74.3C593.7 75.4 597.0 76.9 598.3 77.4"/>
</g>
<g clip-path="url(#cD)" fill="none" stroke="#808080" stroke-width="1.30" stroke-linejoin="round">
<path d="M340.0 334.0C345.0 333.8 360.8 332.3 370.0 333.0C379.2 333.7 389.2 336.0 395.0 338.0C400.8 340.0 400.9 341.6 404.7 345.0C408.5 348.4 414.1 353.9 418.0 358.3C421.9 362.8 424.7 366.7 428.0 371.7C431.3 376.7 434.7 382.2 438.0 388.3C441.3 394.4 444.7 401.1 448.0 408.3C451.3 415.5 454.7 423.4 458.0 431.7C461.3 440.0 464.7 449.4 468.0 458.3C471.3 467.2 474.9 477.2 478.0 485.0C481.1 492.8 483.5 498.7 486.3 505.0C489.1 511.3 492.3 517.5 495.0 523.0C497.7 528.5 501.2 535.5 502.5 538.0"/>
<path d="M332.8 446.0L351.4 450.0L365.2 442.7C367.6 440.4 374.6 434.0 379.9 429.2C385.2 424.4 391.4 418.5 397.2 413.6C403.0 408.7 409.4 403.9 414.5 399.8C419.6 395.7 423.0 392.7 428.0 389.0C433.0 385.3 439.1 381.1 444.7 377.5C450.2 373.9 455.4 370.6 461.3 367.5C467.2 364.4 473.6 361.9 480.0 359.0C486.4 356.1 492.5 352.8 500.0 350.0C507.5 347.2 515.8 344.3 525.0 342.0C534.2 339.7 542.8 337.5 555.0 336.0C567.2 334.5 590.8 333.5 598.0 333.0"/>
<path d="M332.8 437.0L337.5 437.0C338.8 435.4 342.6 431.1 345.3 427.5C348.1 423.9 351.1 419.4 354.0 415.4C356.9 411.4 359.7 407.4 362.6 403.3C365.5 399.2 368.4 394.9 371.3 391.1C374.2 387.4 377.0 384.0 379.9 380.8C382.8 377.6 385.7 374.9 388.6 372.1C391.5 369.4 393.4 367.5 397.2 364.3C401.0 361.1 406.2 356.4 411.3 353.0C416.4 349.6 421.6 346.7 428.0 344.0C434.4 341.3 441.3 338.8 450.0 337.0C458.7 335.2 455.3 334.2 480.0 333.5C504.7 332.8 578.3 333.1 598.0 333.0"/>
<path d="M332.8 433.5C334.9 432.5 339.5 429.5 345.3 427.5C351.1 425.5 364.1 422.4 367.8 421.4C369.8 419.8 375.0 415.9 379.9 411.9C384.8 407.9 391.4 401.8 397.2 397.2C403.0 392.6 409.4 387.7 414.5 384.2C419.6 380.7 422.9 379.3 428.0 376.4C433.1 373.5 438.8 370.1 445.0 367.0C451.2 363.9 457.5 361.0 465.0 358.0C472.5 355.0 480.8 351.8 490.0 349.0C499.2 346.2 509.2 343.2 520.0 341.0C530.8 338.8 542.0 336.8 555.0 335.5C568.0 334.2 590.8 333.4 598.0 333.0"/>
<path d="M332.8 418.0C336.3 417.9 348.2 417.4 354.0 417.1C359.8 416.8 363.5 417.1 367.8 416.2C372.1 415.3 375.0 413.2 379.9 411.9C384.8 410.6 390.3 409.5 397.2 408.4C404.1 407.3 417.4 405.9 421.4 405.4C422.5 404.8 424.1 404.0 428.0 402.0C431.9 400.0 439.1 396.1 444.7 393.3C450.2 390.5 455.8 388.1 461.3 385.0C466.9 381.9 471.3 378.3 478.0 375.0C484.7 371.7 492.6 368.8 501.3 365.0C510.0 361.2 520.2 355.8 530.0 352.0C539.8 348.2 548.7 344.8 560.0 342.0C571.3 339.2 591.7 336.2 598.0 335.0"/>
<path d="M332.8 405.0C333.7 403.6 336.3 399.5 338.4 396.3C340.5 393.1 342.7 389.4 345.3 386.0C347.9 382.6 351.1 378.8 354.0 375.6C356.9 372.4 359.6 369.8 362.6 367.0C365.6 364.2 368.3 361.8 372.0 359.0C375.7 356.2 380.3 352.7 385.0 350.0C389.7 347.3 394.2 345.2 400.0 343.0C405.8 340.8 411.7 338.6 420.0 337.0C428.3 335.4 420.3 334.2 450.0 333.5C479.7 332.8 573.3 333.1 598.0 333.0"/>
<path d="M332.8 401.5L341.8 401.9C343.2 401.1 347.0 399.0 350.5 397.2C354.0 395.4 357.7 393.0 362.6 391.1C367.5 389.2 374.1 387.4 379.9 386.0C385.7 384.6 389.2 383.9 397.2 382.5C405.2 381.1 417.5 379.4 428.0 377.3C438.5 375.2 449.7 372.6 460.0 370.0C470.3 367.4 480.0 364.8 490.0 362.0C500.0 359.2 510.0 356.0 520.0 353.0C530.0 350.0 537.0 346.8 550.0 344.0C563.0 341.2 590.0 337.3 598.0 336.0"/>
<path d="M332.8 397.2C334.9 396.8 340.3 395.9 345.3 394.6C350.3 393.3 356.8 391.1 362.6 389.4C368.4 387.7 374.1 386.2 379.9 384.2C385.7 382.2 391.4 379.6 397.2 377.3C403.0 375.0 409.4 372.4 414.5 370.4C419.6 368.4 422.9 367.1 428.0 365.2C433.1 363.3 438.8 361.2 445.0 359.0C451.2 356.8 457.5 354.3 465.0 352.0C472.5 349.7 480.8 347.2 490.0 345.0C499.2 342.8 508.3 340.8 520.0 339.0C531.7 337.2 547.0 335.5 560.0 334.5C573.0 333.5 591.7 333.2 598.0 333.0"/>
<path d="M332.8 425.0C336.3 423.7 347.6 419.6 354.0 417.1C360.4 414.6 365.5 412.5 371.3 410.2C377.1 407.9 382.8 405.9 388.6 403.3C394.4 400.7 399.3 397.5 405.9 394.6C412.5 391.7 422.6 387.9 428.0 386.0C433.4 384.1 434.3 384.4 438.0 383.5C441.7 382.6 445.5 380.5 450.0 380.5C454.5 380.5 462.5 383.0 465.0 383.5C467.5 382.5 474.5 379.2 480.0 377.5C485.5 375.8 491.3 374.9 498.0 373.0C504.7 371.1 512.2 368.7 520.0 366.0C527.8 363.3 536.7 360.0 545.0 357.0C553.3 354.0 561.2 350.8 570.0 348.0C578.8 345.2 593.3 341.3 598.0 340.0"/>
<path d="M430.0 333.0C436.7 333.3 459.2 333.5 470.0 335.0C480.8 336.5 488.8 339.2 495.0 342.0C501.2 344.8 503.0 347.3 507.0 352.0C511.0 356.7 515.0 363.0 519.0 370.0C523.0 377.0 527.8 386.0 531.0 394.0C534.2 402.0 536.4 410.1 538.5 418.0C540.6 425.9 543.0 437.5 543.9 441.4C546.8 442.2 555.1 444.6 561.0 446.5C566.9 448.4 572.9 449.8 579.0 452.5C585.1 455.2 594.7 461.2 597.8 463.0"/>
<path d="M380.0 333.0C388.3 334.2 415.0 335.8 430.0 340.0C445.0 344.2 458.2 352.0 470.0 358.0C481.8 364.0 491.8 371.5 501.0 376.0C510.2 380.5 517.5 380.0 525.0 385.0C532.5 390.0 539.5 399.0 546.0 406.0C552.5 413.0 558.0 420.0 564.0 427.0C570.0 434.0 576.4 442.2 582.0 448.0C587.6 453.8 595.2 459.2 597.8 461.5"/>
<path d="M440.0 333.0C446.7 333.3 469.2 333.0 480.0 335.0C490.8 337.0 498.5 340.7 505.0 345.0C511.5 349.3 514.7 354.8 519.0 361.0C523.3 367.2 527.5 374.5 531.0 382.0C534.5 389.5 538.5 402.0 540.0 406.0L597.8 406.3"/>
<path d="M450.0 333.0C456.7 333.5 479.2 333.2 490.0 336.0C500.8 338.8 508.7 344.3 515.0 350.0C521.3 355.7 524.5 363.3 528.0 370.0C531.5 376.7 533.8 384.8 536.0 390.0C538.2 395.2 540.2 399.6 541.0 401.5L597.8 401.8"/>
<path d="M430.0 333.0C436.7 333.7 458.3 334.2 470.0 337.0C481.7 339.8 491.7 345.2 500.0 350.0C508.3 354.8 514.8 361.7 520.0 366.0C525.2 370.3 529.2 374.3 531.0 376.0L597.8 376.3"/>
<path d="M420.0 333.0C426.7 333.8 446.7 334.3 460.0 338.0C473.3 341.7 489.2 349.3 500.0 355.0C510.8 360.7 518.8 367.8 525.0 372.0C531.2 376.2 535.0 379.1 537.0 380.5L597.8 381.0"/>
<path d="M460.0 333.0C466.7 333.8 488.3 334.3 500.0 338.0C511.7 341.7 521.7 348.8 530.0 355.0C538.3 361.2 545.0 369.5 550.0 375.0C555.0 380.5 558.3 385.8 560.0 388.0L597.8 388.5"/>
<path d="M500.0 333.0C506.7 333.5 530.8 334.3 540.0 336.0C549.2 337.7 551.0 339.8 555.0 343.0C559.0 346.2 560.5 349.5 564.0 355.0C567.5 360.5 572.0 368.0 576.0 376.0C580.0 384.0 584.8 395.5 588.0 403.0C591.2 410.5 594.2 418.0 595.5 421.0L597.8 421.0"/>
<path d="M480.0 333.0C486.7 333.3 509.2 333.0 520.0 335.0C530.8 337.0 539.2 342.2 545.0 345.0C550.8 347.8 550.8 346.8 555.0 352.0C559.2 357.2 565.0 368.0 570.0 376.0C575.0 384.0 580.4 393.0 585.0 400.0C589.6 407.0 595.7 415.0 597.8 418.0"/>
<path d="M520.0 333.0C526.7 333.3 550.7 333.3 560.0 335.0C569.3 336.7 571.3 338.2 576.0 343.0C580.7 347.8 584.4 358.0 588.0 364.0C591.6 370.0 596.2 376.5 597.8 379.0"/>
<path d="M332.6 359.8L353.5 352.6L466.7 332.6L491.7 332.6L527.4 335.5L555.7 367.2L573.8 367.2L598.3 367.2"/>
<path d="M332.6 372.7C336.3 371.9 347.3 369.3 354.7 367.7C362.1 366.1 369.5 364.4 376.9 362.8C384.3 361.2 391.6 359.6 399.0 358.0C406.4 356.4 413.8 354.8 421.2 353.2C428.6 351.6 435.9 350.1 443.3 348.5C450.7 346.9 458.1 345.4 465.5 343.9C472.9 342.4 480.2 341.0 487.6 339.7C495.0 338.4 502.3 337.1 509.7 336.0C517.1 334.9 524.5 333.9 531.9 333.3C539.3 332.7 546.6 331.2 554.0 332.6C561.4 334.0 568.8 337.1 576.2 341.8C583.6 346.5 594.6 357.5 598.3 360.6"/>
<path d="M332.6 336.7C336.3 336.0 347.3 333.3 354.7 332.6C362.1 331.9 369.5 332.6 376.9 332.6C384.3 332.6 391.6 332.6 399.0 332.6C406.4 332.6 413.8 332.6 421.2 332.6C428.6 332.6 435.9 332.6 443.3 332.6C450.7 332.6 458.1 332.6 465.5 332.6C472.9 332.6 480.2 332.6 487.6 332.6C495.0 332.6 502.3 332.6 509.7 332.6C517.1 332.6 524.5 332.6 531.9 332.6C539.3 332.6 546.6 332.3 554.0 332.6C561.4 332.9 568.8 333.4 576.2 334.6C583.6 335.8 594.6 338.9 598.3 339.7"/>
<path d="M332.6 376.3C336.3 375.3 347.3 372.3 354.7 370.4C362.1 368.5 369.5 366.6 376.9 364.7C384.3 362.8 391.6 360.8 399.0 358.9C406.4 357.0 413.8 355.1 421.2 353.2C428.6 351.3 435.9 349.4 443.3 347.5C450.7 345.6 458.1 343.8 465.5 342.0C472.9 340.2 480.2 338.4 487.6 336.9C495.0 335.4 502.3 333.7 509.7 333.1C517.1 332.5 524.5 331.8 531.9 333.1C539.3 334.4 546.3 337.4 554.0 341.1C561.7 344.8 574.2 352.9 578.3 355.2L598.3 355.2"/>
<path d="M332.6 343.5C336.3 343.0 347.3 341.4 354.7 340.4C362.1 339.4 369.5 338.3 376.9 337.3C384.3 336.3 391.6 335.2 399.0 334.4C406.4 333.6 413.8 332.9 421.2 332.6C428.6 332.3 435.9 332.6 443.3 332.6C450.7 332.6 458.1 332.6 465.5 332.6C472.9 332.6 480.2 332.6 487.6 332.6C495.0 332.6 502.3 332.6 509.7 332.6C517.1 332.6 524.5 332.6 531.9 332.6C539.3 332.6 546.6 332.6 554.0 332.6C561.4 332.6 569.2 332.2 576.2 332.6C583.2 333.0 592.8 334.4 596.1 334.8"/>
<path d="M332.6 369.8C336.3 368.7 347.3 365.5 354.7 363.3C362.1 361.1 369.5 359.0 376.9 356.9C384.3 354.8 391.6 352.7 399.0 350.7C406.4 348.7 413.8 346.7 421.2 344.8C428.6 342.9 435.9 341.1 443.3 339.5C450.7 337.9 458.1 336.3 465.5 335.2C472.9 334.1 480.2 333.2 487.6 332.8C495.0 332.4 502.3 332.6 509.7 332.6C517.1 332.6 524.5 331.4 531.9 332.7C539.3 333.9 546.6 336.4 554.0 340.1C561.4 343.8 568.8 349.6 576.2 355.0C583.6 360.4 594.6 369.8 598.3 372.7"/>
<path d="M332.6 333.1C336.3 333.0 347.3 332.8 354.7 332.7C362.1 332.6 369.5 332.6 376.9 332.6C384.3 332.6 391.6 332.3 399.0 332.6C406.4 332.9 413.8 332.9 421.2 334.5C428.6 336.1 435.9 339.4 443.3 342.0C450.7 344.6 458.1 347.4 465.5 350.1C472.9 352.8 480.2 355.6 487.6 358.3C495.0 361.0 502.3 363.7 509.7 366.4C517.1 369.1 526.4 372.6 531.9 374.7C537.4 376.8 540.9 378.0 542.7 378.7C544.6 378.7 548.4 378.7 554.0 378.7C559.6 378.7 568.8 378.7 576.2 378.7C583.6 378.7 594.6 378.7 598.3 378.7"/>
<path d="M332.6 335.3L463.4 347.2L497.5 361.9L520.3 372.4L530.7 377.3L536.0 379.8L564.0 393.2L598.3 409.8"/>
<path d="M332.6 364.1C336.3 363.2 347.3 360.3 354.7 358.4C362.1 356.5 369.5 354.7 376.9 352.8C384.3 350.9 391.6 349.0 399.0 347.2C406.4 345.4 413.8 343.6 421.2 341.8C428.6 340.0 435.9 338.1 443.3 336.6C450.7 335.1 458.1 333.6 465.5 332.9C472.9 332.2 480.2 332.7 487.6 332.6C495.0 332.6 502.3 332.6 509.7 332.6C517.1 332.6 524.5 332.6 531.9 332.6C539.3 332.6 546.6 332.2 554.0 332.6C561.4 333.0 570.4 333.2 576.2 334.7C582.0 336.2 586.8 340.4 588.9 341.5L598.3 341.5"/>
<path d="M332.6 353.4L381.3 340.1L434.0 332.6L448.6 332.6L495.7 332.6L526.8 332.6L591.7 334.3"/>
<path d="M332.6 338.1C336.3 337.3 347.3 334.4 354.7 333.5C362.1 332.6 369.5 332.8 376.9 332.6C384.3 332.5 391.6 332.6 399.0 332.6C406.4 332.6 413.8 332.6 421.2 332.6C428.6 332.6 435.9 332.6 443.3 332.6C450.7 332.6 458.1 332.6 465.5 332.6C472.9 332.6 480.2 332.6 487.6 332.6C495.0 332.6 502.3 332.6 509.7 332.6C517.1 332.6 524.5 332.6 531.9 332.6C539.3 332.6 546.6 331.9 554.0 332.6C561.4 333.4 569.3 334.5 576.2 337.1C583.1 339.7 592.2 346.3 595.4 348.1"/>
<path d="M332.6 377.5C336.3 376.1 347.3 371.9 354.7 369.1C362.1 366.3 369.5 363.5 376.9 360.8C384.3 358.1 391.6 355.4 399.0 352.8C406.4 350.2 413.8 347.6 421.2 345.2C428.6 342.8 435.9 340.4 443.3 338.5C450.7 336.6 458.1 334.7 465.5 333.7C472.9 332.7 480.2 331.0 487.6 332.6C495.0 334.2 502.3 338.7 509.7 343.4C517.1 348.1 524.7 354.9 531.9 360.7C539.1 366.5 549.5 375.1 553.0 378.0C556.9 378.0 568.7 378.0 576.2 378.0C583.8 378.0 594.6 378.0 598.3 378.0"/>
<path d="M332.6 380.2C336.3 379.2 347.3 376.3 354.7 374.3C362.1 372.3 369.5 370.4 376.9 368.4C384.3 366.4 391.6 364.5 399.0 362.5C406.4 360.5 413.8 358.6 421.2 356.6C428.6 354.7 435.9 352.7 443.3 350.8C450.7 348.9 458.1 346.9 465.5 345.0C472.9 343.1 480.2 341.1 487.6 339.3C495.0 337.5 502.3 335.2 509.7 334.1C517.1 333.0 524.5 332.9 531.9 332.6C539.3 332.4 546.6 332.6 554.0 332.6C561.4 332.6 570.4 332.2 576.2 332.6C582.0 333.0 586.5 334.4 588.6 334.7L598.3 334.7"/>
<path d="M332.6 337.7C336.3 336.9 347.3 333.6 354.7 332.8C362.1 332.0 369.5 332.6 376.9 332.6C384.3 332.6 391.6 332.6 399.0 332.6C406.4 332.6 413.8 332.6 421.2 332.6C428.6 332.6 435.9 332.6 443.3 332.6C450.7 332.6 458.1 332.6 465.5 332.6C472.9 332.6 480.2 332.5 487.6 332.6C495.0 332.7 502.3 332.3 509.7 333.0C517.1 333.7 524.5 335.3 531.9 336.9C539.3 338.5 546.6 340.5 554.0 342.4C561.4 344.3 569.7 346.5 576.2 348.3C582.7 350.1 590.1 352.2 592.9 353.0"/>
<path d="M332.6 367.7C336.3 367.2 347.3 365.6 354.7 364.5C362.1 363.4 369.5 362.3 376.9 361.2C384.3 360.1 391.6 359.0 399.0 357.9C406.4 356.8 413.8 355.8 421.2 354.7C428.6 353.6 435.9 352.5 443.3 351.4C450.7 350.3 458.1 349.2 465.5 348.1C472.9 347.0 480.2 346.0 487.6 344.9C495.0 343.8 502.3 342.7 509.7 341.6C517.1 340.5 524.5 339.5 531.9 338.4C539.3 337.3 546.6 336.2 554.0 335.2C561.4 334.2 568.8 331.7 576.2 332.6C583.6 333.6 594.6 339.5 598.3 340.9"/>
<path d="M332.6 365.9C336.3 365.0 347.3 362.4 354.7 360.7C362.1 359.0 369.5 357.2 376.9 355.5C384.3 353.8 391.6 352.1 399.0 350.4C406.4 348.7 413.8 347.1 421.2 345.5C428.6 343.9 435.9 342.3 443.3 340.9C450.7 339.4 458.1 338.0 465.5 336.8C472.9 335.6 480.2 334.4 487.6 333.7C495.0 333.0 502.3 331.8 509.7 332.6C517.1 333.4 524.5 334.7 531.9 338.6C539.3 342.5 546.6 349.7 554.0 355.8C561.4 361.9 568.8 368.6 576.2 375.2C583.6 381.8 594.6 391.8 598.3 395.1"/>
<path d="M332.6 362.9C336.3 362.0 347.3 359.1 354.7 357.3C362.1 355.5 369.5 353.6 376.9 351.8C384.3 350.0 391.6 348.1 399.0 346.3C406.4 344.5 413.8 342.6 421.2 340.8C428.6 339.0 435.9 337.0 443.3 335.6C450.7 334.2 458.1 333.1 465.5 332.6C472.9 332.1 480.2 332.3 487.6 332.6C495.0 332.9 502.3 332.5 509.7 334.4C517.1 336.3 524.5 340.4 531.9 344.1C539.3 347.8 546.6 352.4 554.0 356.8C561.4 361.2 568.8 365.8 576.2 370.4C583.6 375.0 594.6 382.1 598.3 384.4"/>
<path d="M332.6 386.1C336.3 384.9 347.3 381.4 354.7 379.1C362.1 376.8 369.5 374.4 376.9 372.1C384.3 369.8 391.6 367.4 399.0 365.1C406.4 362.8 413.8 360.6 421.2 358.3C428.6 356.0 435.9 353.7 443.3 351.5C450.7 349.3 458.1 347.1 465.5 345.0C472.9 342.9 480.2 340.7 487.6 338.9C495.0 337.1 502.3 335.2 509.7 334.2C517.1 333.1 524.5 330.7 531.9 332.6C539.3 334.5 546.6 337.7 554.0 345.5C561.4 353.3 568.8 367.0 576.2 379.4C583.6 391.8 594.6 413.3 598.3 420.1"/>
<path d="M332.6 389.1L348.6 385.3L354.1 384.0L387.2 376.2L407.4 371.4L510.4 346.9L598.3 347.1"/>
<path d="M332.6 341.8C336.3 341.1 347.3 339.2 354.7 337.9C362.1 336.6 369.5 335.1 376.9 334.2C384.3 333.3 391.6 332.9 399.0 332.6C406.4 332.3 413.8 332.6 421.2 332.6C428.6 332.6 435.9 332.6 443.3 332.6C450.7 332.6 458.1 332.6 465.5 332.6C472.9 332.6 480.2 332.6 487.6 332.6C495.0 332.6 502.3 332.6 509.7 332.6C517.1 332.6 524.5 332.6 531.9 332.6C539.3 332.6 546.6 332.6 554.0 332.6C561.4 332.6 570.3 331.5 576.2 332.6C582.1 333.7 587.2 338.1 589.4 339.2L598.3 339.2"/>
<path d="M332.6 336.8C336.3 336.2 347.3 333.8 354.7 333.1C362.1 332.4 369.5 332.7 376.9 332.6C384.3 332.5 391.6 332.6 399.0 332.6C406.4 332.6 413.8 332.6 421.2 332.6C428.6 332.6 435.9 332.6 443.3 332.6C450.7 332.6 458.1 332.6 465.5 332.6C472.9 332.6 480.2 332.6 487.6 332.6C495.0 332.6 502.3 332.2 509.7 332.6C517.1 333.0 524.5 333.7 531.9 335.2C539.3 336.7 547.4 339.8 554.0 341.8C560.6 343.8 568.7 346.4 571.6 347.3L598.3 347.3"/>
<path d="M332.6 332.9C336.3 332.8 347.3 332.7 354.7 332.6C362.1 332.6 369.5 332.6 376.9 332.6C384.3 332.6 391.6 332.6 399.0 332.6C406.4 332.6 413.8 332.6 421.2 332.6C428.6 332.6 435.9 332.6 443.3 332.6C450.7 332.6 458.1 332.6 465.5 332.6C472.9 332.6 480.2 332.6 487.6 332.6C495.0 332.6 502.3 332.6 509.7 332.6C517.1 332.6 524.5 332.2 531.9 332.6C539.3 333.0 546.6 332.9 554.0 334.9C561.4 336.9 568.8 340.7 576.2 344.6C583.6 348.5 594.6 356.1 598.3 358.4"/>
<path d="M332.6 346.2C336.3 345.5 347.3 343.5 354.7 342.2C362.1 340.9 369.5 339.6 376.9 338.5C384.3 337.4 391.6 336.3 399.0 335.4C406.4 334.5 413.8 333.7 421.2 333.2C428.6 332.7 435.9 332.7 443.3 332.6C450.7 332.5 458.1 332.6 465.5 332.6C472.9 332.6 480.2 332.2 487.6 332.6C495.0 333.0 502.3 332.7 509.7 334.9C517.1 337.1 524.5 341.3 531.9 345.9C539.3 350.4 546.6 356.3 554.0 362.2C561.4 368.1 570.3 375.9 576.2 381.1C582.1 386.3 587.4 391.3 589.6 393.3L598.3 393.3"/>
<path d="M332.6 383.5L360.1 373.1L391.5 361.4L430.7 347.3L479.3 333.9L526.0 337.0L535.0 340.3L562.1 352.9L591.2 368.3L598.3 372.2"/>
<path d="M332.6 356.9C336.3 356.0 347.3 353.2 354.7 351.4C362.1 349.6 369.5 347.8 376.9 346.0C384.3 344.2 391.6 342.4 399.0 340.8C406.4 339.2 413.8 337.4 421.2 336.1C428.6 334.8 435.9 333.5 443.3 332.9C450.7 332.3 458.1 332.7 465.5 332.6C472.9 332.6 480.2 332.6 487.6 332.6C495.0 332.6 502.3 331.4 509.7 332.6C517.1 333.9 524.5 336.2 531.9 340.1C539.3 344.0 548.5 351.8 554.0 355.7C559.5 359.6 563.0 362.3 564.8 363.6C566.7 363.6 570.6 363.6 576.2 363.6C581.8 363.6 594.6 363.6 598.3 363.6"/>
<path d="M332.6 348.6C336.3 348.1 347.3 346.6 354.7 345.6C362.1 344.6 369.5 343.6 376.9 342.6C384.3 341.6 391.6 340.7 399.0 339.8C406.4 338.9 413.8 337.9 421.2 337.1C428.6 336.3 435.9 335.5 443.3 334.8C450.7 334.1 458.1 333.6 465.5 333.2C472.9 332.8 480.2 332.7 487.6 332.6C495.0 332.5 502.3 332.6 509.7 332.6C517.1 332.6 524.5 332.6 531.9 332.6C539.3 332.6 546.6 332.6 554.0 332.6C561.4 332.6 568.8 331.8 576.2 332.6C583.6 333.4 594.6 336.7 598.3 337.5"/>
<path d="M332.6 387.4L349.5 383.0L391.2 372.1L395.3 371.1L424.1 363.7L459.7 354.7L538.5 336.8L548.0 335.2L556.0 334.1L598.3 344.5"/>
<path d="M332.6 358.5C336.3 357.6 347.3 355.0 354.7 353.3C362.1 351.6 369.5 349.9 376.9 348.2C384.3 346.5 391.6 344.9 399.0 343.2C406.4 341.5 413.8 339.8 421.2 338.2C428.6 336.6 435.9 334.8 443.3 333.9C450.7 333.0 458.1 332.8 465.5 332.6C472.9 332.4 480.2 332.6 487.6 332.6C495.0 332.6 502.3 332.6 509.7 332.6C517.1 332.6 524.5 331.7 531.9 332.7C539.3 333.7 546.6 336.2 554.0 338.6C561.4 341.0 570.9 344.8 576.2 346.8C581.5 348.8 584.1 349.8 585.7 350.4L598.3 350.4"/>
<path d="M332.6 356.2C336.3 355.5 347.3 353.3 354.7 351.8C362.1 350.3 369.5 348.8 376.9 347.4C384.3 346.0 391.6 344.5 399.0 343.2C406.4 341.9 413.8 340.5 421.2 339.3C428.6 338.1 435.9 336.9 443.3 335.9C450.7 334.9 458.1 333.9 465.5 333.4C472.9 332.8 480.2 332.7 487.6 332.6C495.0 332.5 502.3 332.6 509.7 332.6C517.1 332.6 524.5 332.6 531.9 332.6C539.3 332.6 546.6 332.6 554.0 332.6C561.4 332.6 568.8 332.5 576.2 332.6C583.6 332.7 594.6 333.0 598.3 333.1"/>
<path d="M332.6 350.7L389.4 344.2L402.5 342.8L433.9 339.2L528.9 335.8L536.6 341.7L539.4 344.4L580.8 401.2L598.3 401.2"/>
<path d="M332.6 384.4L347.4 379.5L373.0 371.1L464.3 342.6L469.0 341.3L502.3 333.9L533.9 333.8L566.5 349.3L598.3 366.8"/>
<path d="M332.6 375.6L397.9 353.0L462.4 333.6L474.9 332.6L517.1 343.2L590.8 375.7L598.3 379.1"/>
<path d="M332.6 347.3C336.3 346.4 347.3 343.7 354.7 342.0C362.1 340.3 369.5 338.4 376.9 336.9C384.3 335.4 391.6 333.6 399.0 332.9C406.4 332.2 413.8 332.7 421.2 332.6C428.6 332.6 435.9 332.6 443.3 332.6C450.7 332.6 458.1 332.1 465.5 332.6C472.9 333.1 480.2 334.3 487.6 335.8C495.0 337.3 502.3 339.4 509.7 341.4C517.1 343.4 524.5 345.5 531.9 347.6C539.3 349.7 548.8 352.6 554.0 354.1C559.2 355.6 561.6 356.4 563.1 356.8C565.3 356.8 570.3 356.8 576.2 356.8C582.1 356.8 594.6 356.8 598.3 356.8"/>
<path d="M332.6 367.1C336.3 366.0 347.3 362.6 354.7 360.3C362.1 358.1 369.5 355.8 376.9 353.6C384.3 351.4 391.6 349.2 399.0 347.2C406.4 345.1 413.8 343.1 421.2 341.3C428.6 339.5 435.9 337.7 443.3 336.3C450.7 334.9 458.1 333.8 465.5 333.2C472.9 332.6 480.2 332.7 487.6 332.6C495.0 332.5 502.3 332.6 509.7 332.6C517.1 332.6 524.5 332.5 531.9 332.6C539.3 332.7 546.6 332.5 554.0 333.3C561.4 334.1 568.8 335.7 576.2 337.4C583.6 339.1 594.6 342.6 598.3 343.7"/>
<path d="M332.6 352.7C336.3 351.5 347.3 347.9 354.7 345.6C362.1 343.3 369.5 340.9 376.9 338.9C384.3 336.9 391.6 334.7 399.0 333.6C406.4 332.6 413.8 332.8 421.2 332.6C428.6 332.4 435.9 332.6 443.3 332.6C450.7 332.6 458.1 332.6 465.5 332.6C472.9 332.6 480.2 332.6 487.6 332.6C495.0 332.7 502.3 332.1 509.7 332.9C517.1 333.7 524.5 335.4 531.9 337.4C539.3 339.4 546.6 342.2 554.0 344.9C561.4 347.6 570.0 351.2 576.2 353.7C582.5 356.2 589.0 359.0 591.5 360.1"/>
<path d="M332.6 371.7C336.3 371.0 347.3 368.9 354.7 367.5C362.1 366.1 369.5 364.7 376.9 363.3C384.3 361.9 391.6 360.6 399.0 359.2C406.4 357.8 413.8 356.5 421.2 355.1C428.6 353.7 435.9 352.4 443.3 351.0C450.7 349.6 458.1 348.2 465.5 346.9C472.9 345.5 480.2 344.2 487.6 342.9C495.0 341.6 502.3 340.3 509.7 339.1C517.1 337.9 524.5 336.7 531.9 335.7C539.3 334.7 546.6 333.7 554.0 333.2C561.4 332.7 568.8 327.9 576.2 332.7C583.6 337.5 594.6 357.1 598.3 362.0"/>
<path d="M332.6 401.6L341.5 399.0L415.6 377.5L419.6 376.3L470.6 361.5L484.8 357.4L506.7 351.0L545.8 339.9L569.8 333.6L594.2 350.0"/>
<path d="M332.6 380.6L404.1 364.1L405.3 363.8L458.3 351.9L535.9 336.4L547.5 334.7L598.3 348.0"/>
<path d="M332.6 389.2C336.3 388.2 347.3 385.1 354.7 383.1C362.1 381.1 369.5 379.0 376.9 377.0C384.3 375.0 391.6 373.0 399.0 371.0C406.4 369.0 413.8 367.0 421.2 365.0C428.6 363.0 435.9 361.1 443.3 359.2C450.7 357.3 458.1 355.3 465.5 353.4C472.9 351.5 480.2 349.6 487.6 347.8C495.0 346.0 502.3 344.2 509.7 342.5C517.1 340.8 524.5 339.2 531.9 337.8C539.3 336.4 546.6 335.1 554.0 334.2C561.4 333.3 569.5 327.2 576.2 332.6C582.9 338.0 591.3 360.7 594.3 366.3"/>
<path d="M332.6 344.6C336.3 343.2 347.3 338.0 354.7 336.0C362.1 334.0 369.5 333.2 376.9 332.6C384.3 332.0 391.6 332.6 399.0 332.6C406.4 332.6 413.8 332.6 421.2 332.6C428.6 332.6 435.9 332.6 443.3 332.6C450.7 332.6 458.1 332.6 465.5 332.6C472.9 332.6 480.2 332.6 487.6 332.6C495.0 332.6 502.3 332.6 509.7 332.6C517.1 332.6 524.5 332.6 531.9 332.6C539.3 332.6 546.6 332.4 554.0 332.6C561.4 332.8 568.8 331.9 576.2 333.9C583.6 335.9 594.6 343.0 598.3 344.8"/>
<path d="M332.6 339.3C336.3 338.9 347.3 337.8 354.7 337.1C362.1 336.4 369.5 335.6 376.9 334.9C384.3 334.2 391.6 333.4 399.0 333.0C406.4 332.6 413.8 332.7 421.2 332.6C428.6 332.5 435.9 332.6 443.3 332.6C450.7 332.6 458.1 332.6 465.5 332.6C472.9 332.6 480.2 332.6 487.6 332.6C495.0 332.6 502.3 332.6 509.7 332.6C517.1 332.6 524.5 331.8 531.9 332.6C539.3 333.4 546.6 334.2 554.0 337.5C561.4 340.8 570.1 347.6 576.2 352.2C582.3 356.8 588.2 362.8 590.6 364.9"/>
<path d="M332.6 393.1L397.4 374.5L424.3 366.9L452.9 358.9L503.5 345.3L507.6 344.3L558.5 333.9L591.0 339.9"/>
<path d="M332.6 367.5C335.2 366.0 342.8 361.4 347.9 358.7C353.0 356.0 358.1 353.4 363.2 351.1C368.3 348.8 373.4 346.6 378.5 344.7C383.6 342.8 388.7 341.1 393.8 339.6C398.9 338.1 404.0 336.9 409.1 335.9C414.2 334.9 419.3 334.1 424.4 333.5C429.5 332.9 428.3 332.7 439.7 332.6C451.1 332.5 475.0 332.8 492.6 333.1C510.2 333.4 527.8 333.9 545.4 334.6C563.0 335.3 589.5 336.7 598.3 337.1"/>
<path d="M332.6 382.0L338.8 366.9L353.2 342.3L361.6 334.8L369.2 332.6C381.9 332.7 420.2 332.8 445.6 333.2C471.1 333.6 496.4 334.2 521.9 335.0C547.3 335.8 585.6 337.4 598.3 337.9"/>
<path d="M332.6 387.1L357.6 345.8L359.1 344.3L381.5 332.6C393.6 333.0 429.7 333.3 453.8 334.8C477.9 336.3 502.0 338.5 526.1 341.4C550.2 344.3 586.3 350.5 598.3 352.3"/>
<path d="M332.6 375.7C335.1 373.9 342.5 368.3 347.4 364.9C352.3 361.5 357.3 358.4 362.2 355.5C367.1 352.6 372.1 350.0 377.0 347.6C381.9 345.2 386.9 343.1 391.8 341.3C396.7 339.5 401.7 338.0 406.6 336.7C411.5 335.4 416.5 334.4 421.4 333.7C426.3 333.0 424.7 332.5 436.2 332.6C447.7 332.7 472.3 333.1 490.3 334.2C508.3 335.2 526.3 336.8 544.3 338.9C562.3 341.0 589.3 345.5 598.3 346.8"/>
<path d="M332.6 332.6C338.1 332.8 354.7 333.0 365.8 333.6C376.9 334.2 387.9 335.0 399.0 336.0C410.1 337.0 421.1 338.2 432.2 339.6C443.3 341.0 454.4 342.5 465.5 344.2C476.6 345.9 487.6 347.7 498.7 349.7C509.8 351.7 520.8 353.9 531.9 356.2C543.0 358.5 554.0 361.0 565.1 363.6C576.2 366.2 592.8 370.4 598.3 371.7"/>
<path d="M332.6 332.6C338.1 333.3 354.7 335.2 365.8 336.7C376.9 338.1 387.9 339.8 399.0 341.3C410.1 342.9 421.1 344.4 432.2 346.0C443.3 347.6 454.4 349.1 465.5 350.7C476.6 352.3 487.6 354.0 498.7 355.6C509.8 357.2 520.8 358.9 531.9 360.6C543.0 362.3 554.0 363.9 565.1 365.6C576.2 367.3 592.8 369.8 598.3 370.6"/>
<path d="M332.6 332.6C338.1 332.9 354.7 333.6 365.8 334.3C376.9 335.0 387.9 335.9 399.0 336.9C410.1 337.8 421.1 338.9 432.2 340.0C443.3 341.1 454.4 342.3 465.5 343.5C476.6 344.7 487.6 346.0 498.7 347.3C509.8 348.6 520.8 350.0 531.9 351.4C543.0 352.8 554.0 354.1 565.1 355.6C576.2 357.1 592.8 359.4 598.3 360.2"/>
<path d="M332.6 332.6C338.1 333.0 354.7 334.3 365.8 335.2C376.9 336.1 387.9 337.1 399.0 338.1C410.1 339.1 421.1 340.1 432.2 341.2C443.3 342.2 454.4 343.3 465.5 344.4C476.6 345.5 487.6 346.6 498.7 347.7C509.8 348.8 520.8 350.0 531.9 351.1C543.0 352.2 554.0 353.4 565.1 354.5C576.2 355.6 592.8 357.4 598.3 358.0"/>
<path d="M332.6 332.6C338.1 332.7 354.7 333.0 365.8 333.4C376.9 333.8 387.9 334.2 399.0 334.7C410.1 335.2 421.1 335.7 432.2 336.2C443.3 336.7 454.4 337.3 465.5 337.9C476.6 338.5 487.6 339.1 498.7 339.8C509.8 340.5 520.8 341.1 531.9 341.8C543.0 342.5 554.0 343.3 565.1 344.0C576.2 344.7 592.8 345.8 598.3 346.2"/>
<path d="M332.6 332.6C338.1 332.8 354.7 333.1 365.8 333.5C376.9 333.9 387.9 334.3 399.0 334.8C410.1 335.3 421.1 335.8 432.2 336.4C443.3 337.0 454.4 337.6 465.5 338.3C476.6 339.0 487.6 339.6 498.7 340.3C509.8 341.0 520.8 341.8 531.9 342.5C543.0 343.2 554.0 344.0 565.1 344.8C576.2 345.6 592.8 346.9 598.3 347.3"/>
<path d="M332.6 332.6C338.1 332.7 354.7 333.1 365.8 333.4C376.9 333.7 387.9 334.1 399.0 334.4C410.1 334.7 421.1 335.0 432.2 335.3C443.3 335.6 454.4 336.0 465.5 336.3C476.6 336.6 487.6 337.0 498.7 337.3C509.8 337.6 520.8 338.0 531.9 338.4C543.0 338.8 554.0 339.1 565.1 339.4C576.2 339.7 592.8 340.2 598.3 340.4"/>
<path d="M451.0 332.6C467.6 332.6 532.3 332.5 550.6 332.6C568.9 332.7 557.3 332.8 560.6 333.2C563.9 333.6 567.3 334.3 570.6 335.1C573.9 335.9 577.2 337.0 580.5 338.2C583.8 339.4 587.5 341.1 590.5 342.5C593.5 343.9 597.0 346.0 598.3 346.7"/>
<path d="M485.2 332.6C501.8 332.6 566.5 332.6 584.8 332.6C603.1 332.7 592.5 332.8 594.8 332.9C597.0 333.0 597.7 333.1 598.3 333.1"/>
<path d="M376.8 332.6C393.4 332.6 458.1 332.5 476.4 332.6C494.7 332.7 483.1 332.8 486.4 333.2C489.7 333.6 493.1 334.1 496.4 334.9C499.7 335.6 503.0 336.5 506.3 337.7C509.6 338.9 513.0 340.3 516.3 341.8C519.6 343.3 523.0 345.0 526.3 346.9C529.6 348.8 532.9 350.9 536.2 353.2C539.5 355.5 542.9 357.9 546.2 360.6C549.5 363.3 552.9 366.1 556.2 369.2C559.5 372.2 562.8 375.5 566.1 378.9C569.4 382.3 572.8 386.0 576.1 389.8C579.4 393.6 582.7 397.6 586.0 401.8C589.3 406.0 594.0 412.3 596.0 415.0C598.0 417.7 597.9 417.7 598.3 418.2"/>
<path d="M450.3 332.6C466.9 332.6 531.6 332.5 549.9 332.6C568.2 332.7 556.6 332.8 559.9 333.2C563.2 333.6 566.6 334.1 569.9 334.8C573.2 335.5 576.5 336.5 579.8 337.6C583.1 338.7 586.7 340.2 589.8 341.5C592.9 342.8 596.9 344.9 598.3 345.6"/>
<path d="M418.6 332.6C435.2 332.6 499.9 332.5 518.2 332.6C536.5 332.7 524.9 332.8 528.2 333.2C531.5 333.6 534.9 334.2 538.2 335.1C541.5 336.0 544.8 337.0 548.1 338.3C551.4 339.6 554.8 341.0 558.1 342.7C561.4 344.4 564.8 346.3 568.1 348.4C571.4 350.5 574.7 352.8 578.0 355.3C581.3 357.8 584.7 360.6 588.0 363.5C591.3 366.4 596.3 371.4 598.0 373.0C599.7 374.6 598.2 373.3 598.3 373.4"/>
<path d="M379.6 332.6C396.2 332.6 461.0 332.5 479.3 332.6C497.6 332.7 485.9 332.7 489.2 333.0C492.5 333.3 495.9 333.8 499.2 334.4C502.5 335.0 505.9 335.7 509.2 336.6C512.5 337.5 515.8 338.4 519.1 339.6C522.4 340.8 525.8 342.1 529.1 343.6C532.4 345.1 535.8 346.6 539.1 348.4C542.4 350.2 545.7 352.1 549.0 354.2C552.3 356.3 555.7 358.5 559.0 360.8C562.3 363.1 565.7 365.6 569.0 368.2C572.3 370.8 575.6 373.7 578.9 376.6C582.2 379.5 585.7 382.7 588.9 385.8C592.1 388.9 596.7 393.8 598.3 395.4"/>
</g>
<g clip-path="url(#cA)" fill="none" stroke="#000" stroke-width="1.30" stroke-linejoin="round">
<path d="M166.1 269.6C166.7 264.1 168.5 246.7 169.7 236.5C170.8 226.3 171.7 218.1 173.0 208.4C174.3 198.7 175.9 187.3 177.3 178.1C178.7 168.9 180.3 160.0 181.5 153.0C182.7 146.0 183.6 141.8 184.7 136.3C185.8 130.8 187.0 125.1 188.2 119.9C189.3 114.7 190.4 109.5 191.6 105.2C192.8 100.9 193.9 96.9 195.1 93.9C196.2 90.9 197.3 88.7 198.5 87.0C199.7 85.3 200.8 84.7 202.0 83.5C203.2 82.3 204.3 81.4 205.5 80.1C206.7 78.8 207.6 77.2 208.9 75.8C210.2 74.3 211.9 72.8 213.3 71.4C214.8 70.0 216.3 68.7 217.6 67.6C218.9 66.5 220.1 65.5 221.0 65.0C221.9 64.5 222.5 64.4 223.3 64.5C224.1 64.6 224.8 64.7 225.7 65.4C226.6 66.1 227.7 67.1 228.8 68.8C229.9 70.5 231.2 73.2 232.3 75.8C233.5 78.4 234.5 81.1 235.7 84.4C236.8 87.7 238.0 91.5 239.2 95.7C240.4 99.9 241.5 104.5 242.7 109.5C243.8 114.5 245.1 120.9 246.1 125.9C247.1 131.0 247.8 135.5 248.5 139.8C249.2 144.2 249.5 145.6 250.3 152.0C251.1 158.4 252.2 168.7 253.4 178.1C254.6 187.5 256.1 198.7 257.3 208.4C258.5 218.1 259.4 226.3 260.5 236.5C261.6 246.7 263.1 264.1 263.6 269.6"/>
</g>
<g clip-path="url(#cC)" fill="none" stroke="#000" stroke-width="1.30" stroke-linejoin="round">
<path d="M137.5 537.5C138.7 529.0 142.2 502.9 144.5 486.7C146.8 470.4 149.9 450.8 151.5 440.0C153.1 429.2 153.2 427.5 154.0 422.0C154.8 416.5 155.6 412.4 156.6 406.8C157.6 401.2 158.9 394.2 160.1 388.6C161.2 383.0 162.3 377.9 163.5 373.0C164.7 368.1 165.8 363.2 167.0 359.2C168.2 355.2 169.3 351.6 170.5 348.8C171.7 346.0 172.8 344.1 173.9 342.4C175.1 340.7 176.2 340.0 177.4 338.8C178.6 337.6 179.7 336.2 180.8 335.3C182.0 334.4 183.4 333.6 184.3 333.2C185.2 332.8 185.7 332.6 186.4 332.7C187.1 332.8 187.7 332.7 188.6 333.6C189.5 334.5 190.9 336.2 192.1 337.9C193.3 339.6 194.4 341.5 195.6 343.6C196.8 345.7 197.8 347.9 199.0 350.5C200.2 353.1 201.5 356.0 202.5 359.2C203.5 362.4 204.2 366.0 205.1 369.6C206.0 373.2 206.8 377.5 207.7 380.8C208.6 384.1 209.4 386.8 210.3 389.5C211.2 392.2 212.1 394.4 212.9 397.3C213.8 400.2 214.4 402.7 215.4 406.8C216.4 410.9 217.7 416.5 218.9 422.0C220.1 427.5 220.6 429.2 222.7 440.0C224.8 450.8 229.0 473.9 231.3 486.7C233.6 499.5 235.3 508.5 236.7 517.0C238.1 525.5 239.2 534.1 239.7 537.5"/>
</g>
<g stroke="#000" stroke-width="1.25" fill="none" shape-rendering="auto">
<rect x="61.7" y="2.1" width="536.1" height="535.9"/>
<line x1="329.6" y1="2.1" x2="329.6" y2="538.0"/>
<line x1="61.7" y1="270.2" x2="597.8" y2="270.2"/>
</g>
<g stroke="#222" stroke-width="0.7" fill="none">
<line x1="64.5" y1="538.0" x2="64.5" y2="533.8"/>
<line x1="64.5" y1="270.2" x2="64.5" y2="274.4"/>
<line x1="332.8" y1="538.0" x2="332.8" y2="533.8"/>
<line x1="332.8" y1="270.2" x2="332.8" y2="274.4"/>
<line x1="97.7" y1="538.0" x2="97.7" y2="533.8"/>
<line x1="97.7" y1="270.2" x2="97.7" y2="274.4"/>
<line x1="366.0" y1="538.0" x2="366.0" y2="533.8"/>
<line x1="366.0" y1="270.2" x2="366.0" y2="274.4"/>
<line x1="130.9" y1="538.0" x2="130.9" y2="533.8"/>
<line x1="130.9" y1="270.2" x2="130.9" y2="274.4"/>
<line x1="399.2" y1="538.0" x2="399.2" y2="533.8"/>
<line x1="399.2" y1="270.2" x2="399.2" y2="274.4"/>
<line x1="164.1" y1="538.0" x2="164.1" y2="533.8"/>
<line x1="164.1" y1="270.2" x2="164.1" y2="274.4"/>
<line x1="432.4" y1="538.0" x2="432.4" y2="533.8"/>
<line x1="432.4" y1="270.2" x2="432.4" y2="274.4"/>
<line x1="197.4" y1="538.0" x2="197.4" y2="533.8"/>
<line x1="197.4" y1="270.2" x2="197.4" y2="274.4"/>
<line x1="465.7" y1="538.0" x2="465.7" y2="533.8"/>
<line x1="465.7" y1="270.2" x2="465.7" y2="274.4"/>
<line x1="230.6" y1="538.0" x2="230.6" y2="533.8"/>
<line x1="230.6" y1="270.2" x2="230.6" y2="274.4"/>
<line x1="498.9" y1="538.0" x2="498.9" y2="533.8"/>
<line x1="498.9" y1="270.2" x2="498.9" y2="274.4"/>
<line x1="263.8" y1="538.0" x2="263.8" y2="533.8"/>
<line x1="263.8" y1="270.2" x2="263.8" y2="274.4"/>
<line x1="532.1" y1="538.0" x2="532.1" y2="533.8"/>
<line x1="532.1" y1="270.2" x2="532.1" y2="274.4"/>
<line x1="297.0" y1="538.0" x2="297.0" y2="533.8"/>
<line x1="297.0" y1="270.2" x2="297.0" y2="274.4"/>
<line x1="565.3" y1="538.0" x2="565.3" y2="533.8"/>
<line x1="565.3" y1="270.2" x2="565.3" y2="274.4"/>
<line x1="61.7" y1="238.5" x2="65.9" y2="238.5"/>
<line x1="329.6" y1="238.5" x2="325.4" y2="238.5"/>
<line x1="61.7" y1="506.6" x2="65.9" y2="506.6"/>
<line x1="329.6" y1="506.6" x2="325.4" y2="506.6"/>
<line x1="61.7" y1="203.7" x2="65.9" y2="203.7"/>
<line x1="329.6" y1="203.7" x2="325.4" y2="203.7"/>
<line x1="61.7" y1="471.8" x2="65.9" y2="471.8"/>
<line x1="329.6" y1="471.8" x2="325.4" y2="471.8"/>
<line x1="61.7" y1="168.9" x2="65.9" y2="168.9"/>
<line x1="329.6" y1="168.9" x2="325.4" y2="168.9"/>
<line x1="61.7" y1="437.0" x2="65.9" y2="437.0"/>
<line x1="329.6" y1="437.0" x2="325.4" y2="437.0"/>
<line x1="61.7" y1="134.1" x2="65.9" y2="134.1"/>
<line x1="329.6" y1="134.1" x2="325.4" y2="134.1"/>
<line x1="61.7" y1="402.2" x2="65.9" y2="402.2"/>
<line x1="329.6" y1="402.2" x2="325.4" y2="402.2"/>
<line x1="61.7" y1="99.3" x2="65.9" y2="99.3"/>
<line x1="329.6" y1="99.3" x2="325.4" y2="99.3"/>
<line x1="61.7" y1="367.4" x2="65.9" y2="367.4"/>
<line x1="329.6" y1="367.4" x2="325.4" y2="367.4"/>
<line x1="61.7" y1="64.5" x2="65.9" y2="64.5"/>
<line x1="329.6" y1="64.5" x2="325.4" y2="64.5"/>
<line x1="61.7" y1="332.6" x2="65.9" y2="332.6"/>
<line x1="329.6" y1="332.6" x2="325.4" y2="332.6"/>
<line x1="61.7" y1="29.7" x2="65.9" y2="29.7"/>
<line x1="329.6" y1="29.7" x2="325.4" y2="29.7"/>
<line x1="61.7" y1="297.8" x2="65.9" y2="297.8"/>
<line x1="329.6" y1="297.8" x2="325.4" y2="297.8"/>
</g>
</svg>
<div class="t yt" style="left:4.9px;top:230.3px"><span class="mn">−</span>5</div>
<div class="t yt" style="left:4.9px;top:498.4px"><span class="mn">−</span>5</div>
<div class="t yt" style="left:4.9px;top:195.5px"><span class="mn">−</span>4</div>
<div class="t yt" style="left:4.9px;top:463.6px"><span class="mn">−</span>4</div>
<div class="t yt" style="left:4.9px;top:160.7px"><span class="mn">−</span>3</div>
<div class="t yt" style="left:4.9px;top:428.8px"><span class="mn">−</span>3</div>
<div class="t yt" style="left:4.9px;top:125.9px"><span class="mn">−</span>2</div>
<div class="t yt" style="left:4.9px;top:394.0px"><span class="mn">−</span>2</div>
<div class="t yt" style="left:4.9px;top:91.1px"><span class="mn">−</span>1</div>
<div class="t yt" style="left:4.9px;top:359.2px"><span class="mn">−</span>1</div>
<div class="t yt" style="left:4.9px;top:56.3px">0</div>
<div class="t yt" style="left:4.9px;top:324.4px">0</div>
<div class="t yt" style="left:4.9px;top:21.5px">1</div>
<div class="t yt" style="left:4.9px;top:289.6px">1</div>
<div class="t xt" style="left:45.7px;top:542.2px">1.0</div>
<div class="t xt" style="left:314.0px;top:542.2px">1.0</div>
<div class="t xt" style="left:78.9px;top:542.2px">1.5</div>
<div class="t xt" style="left:347.2px;top:542.2px">1.5</div>
<div class="t xt" style="left:112.1px;top:542.2px">2.0</div>
<div class="t xt" style="left:380.4px;top:542.2px">2.0</div>
<div class="t xt" style="left:145.3px;top:542.2px">2.5</div>
<div class="t xt" style="left:413.6px;top:542.2px">2.5</div>
<div class="t xt" style="left:178.6px;top:542.2px">3.0</div>
<div class="t xt" style="left:446.9px;top:542.2px">3.0</div>
<div class="t xt" style="left:211.8px;top:542.2px">3.5</div>
<div class="t xt" style="left:480.1px;top:542.2px">3.5</div>
<div class="t xt" style="left:245.0px;top:542.2px">4.0</div>
<div class="t xt" style="left:513.3px;top:542.2px">4.0</div>
<div class="t xt" style="left:278.2px;top:542.2px">4.5</div>
<div class="t xt" style="left:546.5px;top:542.2px">4.5</div>
<div class="t s r" style="right:278.8px;top:6.9px">combined</div>
<div class="t s r" style="right:278.8px;top:29.2px">OGLE</div>
<div class="t s r" style="right:10.5px;top:6.9px;letter-spacing:0.27px">individual</div>
<div class="t s r" style="right:10.5px;top:29.2px">OGLE</div>
<div class="t s r" style="right:278.8px;top:275.0px">combined</div>
<div class="t s r" style="right:278.8px;top:297.3px">mock</div>
<div class="t s r" style="right:10.5px;top:275.0px;letter-spacing:0.27px">individual</div>
<div class="t s r" style="right:10.5px;top:297.3px">mock</div>
<div class="t s" style="left:71.3px;top:239.6px;font-size:21px;letter-spacing:0.2px">(a)</div>
<div class="t s" style="left:342.2px;top:239.6px;font-size:21px;letter-spacing:0.2px">(b)</div>
<div class="t s" style="left:73.4px;top:504.7px;font-size:21px;letter-spacing:0.2px">(c)</div>
<div class="t s" style="left:338.8px;top:500.8px;font-size:21px;letter-spacing:0.2px">(d)</div>
<div class="t s" style="left:96.0px;top:554.7px;width:200px;text-align:center;font-size:20.5px;letter-spacing:0.3px"><i>β</i> (Pareto exp)</div>
<div class="t s" style="left:364.0px;top:554.7px;width:200px;text-align:center;font-size:20.5px;letter-spacing:0.3px"><i>β</i> (Pareto exp)</div>
<div class="t s yl" style="left:-2.0px;top:222.4px">marginal <span class="lg">log</span> <span class="cal">ℒ</span><span class="sl">/</span><span class="cal">ℒ</span><sub>max</sub></div>
<div class="t s yl" style="left:-2.0px;top:490.3px">marginal <span class="lg">log</span> <span class="cal">ℒ</span><span class="sl">/</span><span class="cal">ℒ</span><sub>max</sub></div>
</body></html>
